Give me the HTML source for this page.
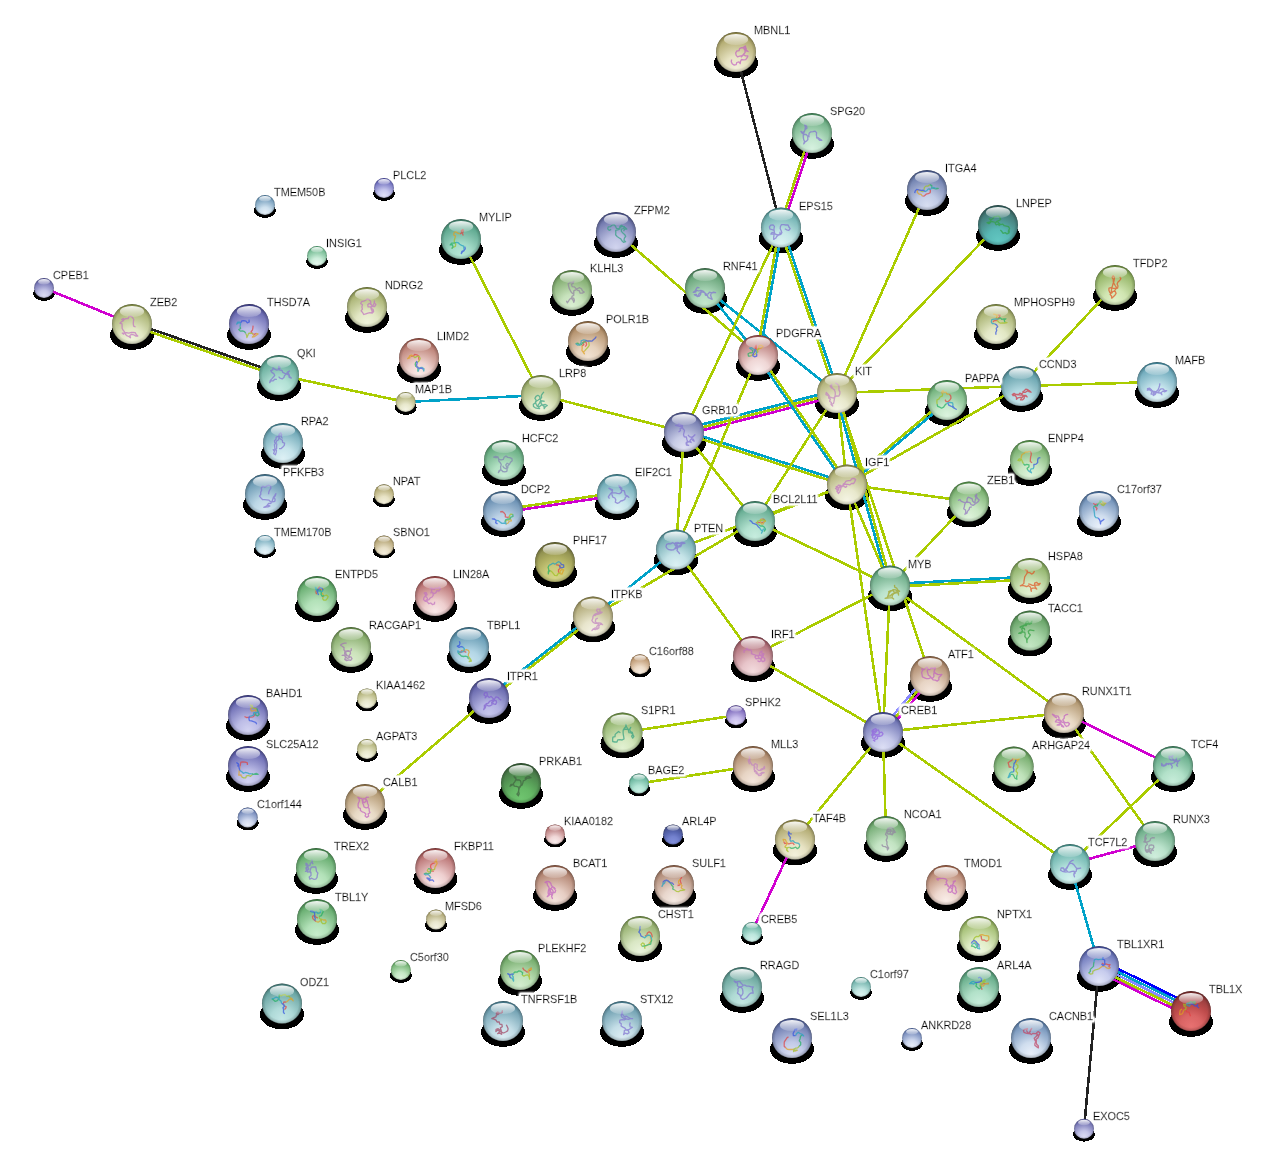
<!DOCTYPE html><html><head><meta charset="utf-8"><style>html,body{margin:0;padding:0;background:#fff;width:1261px;height:1174px;overflow:hidden}svg{display:block}text{font-family:"Liberation Sans",sans-serif;font-size:10.9px;fill:#000;stroke:#000;stroke-width:0.3px}</style></head><body>
<svg width="1261" height="1174" viewBox="0 0 1261 1174">
<defs>
<linearGradient id="hl" x1="0" y1="0" x2="0" y2="1"><stop offset="0" stop-color="#fff" stop-opacity="0.95"/><stop offset="1" stop-color="#fff" stop-opacity="0.15"/></linearGradient>
<radialGradient id="g4aa8a4" cx="0.5" cy="0.88" r="0.92" fx="0.5" fy="0.88"><stop offset="0" stop-color="#62c6c1"/><stop offset="0.3" stop-color="#58b9b5"/><stop offset="0.55" stop-color="#4e9592"/><stop offset="0.8" stop-color="#427673"/><stop offset="0.92" stop-color="#346260"/><stop offset="1" stop-color="#244847"/></radialGradient>
<radialGradient id="g52aa52" cx="0.5" cy="0.88" r="0.92" fx="0.5" fy="0.88"><stop offset="0" stop-color="#6fc46f"/><stop offset="0.3" stop-color="#65b865"/><stop offset="0.55" stop-color="#559855"/><stop offset="0.8" stop-color="#487848"/><stop offset="0.92" stop-color="#396339"/><stop offset="1" stop-color="#284a28"/></radialGradient>
<radialGradient id="g5a6ac2" cx="0.5" cy="0.88" r="0.92" fx="0.5" fy="0.88"><stop offset="0" stop-color="#808eda"/><stop offset="0.3" stop-color="#7381ce"/><stop offset="0.55" stop-color="#5967b2"/><stop offset="0.8" stop-color="#485390"/><stop offset="0.92" stop-color="#384278"/><stop offset="1" stop-color="#272f59"/></radialGradient>
<radialGradient id="g84ccb4" cx="0.5" cy="0.88" r="0.92" fx="0.5" fy="0.88"><stop offset="0" stop-color="#b4e6d5"/><stop offset="0.3" stop-color="#a2dac7"/><stop offset="0.55" stop-color="#7ebea9"/><stop offset="0.8" stop-color="#5aa68c"/><stop offset="0.92" stop-color="#478a73"/><stop offset="1" stop-color="#316654"/></radialGradient>
<radialGradient id="g9292d2" cx="0.5" cy="0.88" r="0.92" fx="0.5" fy="0.88"><stop offset="0" stop-color="#c6c6ec"/><stop offset="0.3" stop-color="#b2b2e1"/><stop offset="0.55" stop-color="#8a8ac4"/><stop offset="0.8" stop-color="#6363ab"/><stop offset="0.92" stop-color="#4b4b92"/><stop offset="1" stop-color="#34346c"/></radialGradient>
<radialGradient id="g92c2d8" cx="0.5" cy="0.88" r="0.92" fx="0.5" fy="0.88"><stop offset="0" stop-color="#c9e4f0"/><stop offset="0.3" stop-color="#b3d6e6"/><stop offset="0.55" stop-color="#8ab6ca"/><stop offset="0.8" stop-color="#6298b2"/><stop offset="0.92" stop-color="#47809a"/><stop offset="1" stop-color="#315e72"/></radialGradient>
<radialGradient id="g92c8d2" cx="0.5" cy="0.88" r="0.92" fx="0.5" fy="0.88"><stop offset="0" stop-color="#c6e6ec"/><stop offset="0.3" stop-color="#b2d9e1"/><stop offset="0.55" stop-color="#8abbc4"/><stop offset="0.8" stop-color="#63a0ab"/><stop offset="0.92" stop-color="#4b8792"/><stop offset="1" stop-color="#34646c"/></radialGradient>
<radialGradient id="g92ca92" cx="0.5" cy="0.88" r="0.92" fx="0.5" fy="0.88"><stop offset="0" stop-color="#c3e6c3"/><stop offset="0.3" stop-color="#afdaaf"/><stop offset="0.55" stop-color="#8abd8a"/><stop offset="0.8" stop-color="#66a366"/><stop offset="0.92" stop-color="#4f894f"/><stop offset="1" stop-color="#376537"/></radialGradient>
<radialGradient id="g92caa2" cx="0.5" cy="0.88" r="0.92" fx="0.5" fy="0.88"><stop offset="0" stop-color="#c3e6cd"/><stop offset="0.3" stop-color="#afdabc"/><stop offset="0.55" stop-color="#8abd99"/><stop offset="0.8" stop-color="#66a377"/><stop offset="0.92" stop-color="#4f895f"/><stop offset="1" stop-color="#376544"/></radialGradient>
<radialGradient id="g92cac2" cx="0.5" cy="0.88" r="0.92" fx="0.5" fy="0.88"><stop offset="0" stop-color="#c3e6e1"/><stop offset="0.3" stop-color="#afdad4"/><stop offset="0.55" stop-color="#8abdb6"/><stop offset="0.8" stop-color="#66a39a"/><stop offset="0.92" stop-color="#4f8981"/><stop offset="1" stop-color="#37655f"/></radialGradient>
<radialGradient id="g92cac8" cx="0.5" cy="0.88" r="0.92" fx="0.5" fy="0.88"><stop offset="0" stop-color="#c3e6e5"/><stop offset="0.3" stop-color="#afdad8"/><stop offset="0.55" stop-color="#8abdbb"/><stop offset="0.8" stop-color="#66a3a1"/><stop offset="0.92" stop-color="#4f8987"/><stop offset="1" stop-color="#376564"/></radialGradient>
<radialGradient id="g92d29a" cx="0.5" cy="0.88" r="0.92" fx="0.5" fy="0.88"><stop offset="0" stop-color="#c6eccb"/><stop offset="0.3" stop-color="#b2e1b8"/><stop offset="0.55" stop-color="#8ac491"/><stop offset="0.8" stop-color="#63ab6c"/><stop offset="0.92" stop-color="#4b9254"/><stop offset="1" stop-color="#346c3b"/></radialGradient>
<radialGradient id="g92d2aa" cx="0.5" cy="0.88" r="0.92" fx="0.5" fy="0.88"><stop offset="0" stop-color="#c6ecd4"/><stop offset="0.3" stop-color="#b2e1c3"/><stop offset="0.55" stop-color="#8ac4a0"/><stop offset="0.8" stop-color="#63ab7e"/><stop offset="0.92" stop-color="#4b9265"/><stop offset="1" stop-color="#346c49"/></radialGradient>
<radialGradient id="g92d2b2" cx="0.5" cy="0.88" r="0.92" fx="0.5" fy="0.88"><stop offset="0" stop-color="#c6ecd9"/><stop offset="0.3" stop-color="#b2e1c9"/><stop offset="0.55" stop-color="#8ac4a7"/><stop offset="0.8" stop-color="#63ab87"/><stop offset="0.92" stop-color="#4b926e"/><stop offset="1" stop-color="#346c50"/></radialGradient>
<radialGradient id="g92d2ba" cx="0.5" cy="0.88" r="0.92" fx="0.5" fy="0.88"><stop offset="0" stop-color="#c6ecde"/><stop offset="0.3" stop-color="#b2e1cf"/><stop offset="0.55" stop-color="#8ac4af"/><stop offset="0.8" stop-color="#63ab90"/><stop offset="0.92" stop-color="#4b9277"/><stop offset="1" stop-color="#346c57"/></radialGradient>
<radialGradient id="g92d2c2" cx="0.5" cy="0.88" r="0.92" fx="0.5" fy="0.88"><stop offset="0" stop-color="#c6ece3"/><stop offset="0.3" stop-color="#b2e1d5"/><stop offset="0.55" stop-color="#8ac4b6"/><stop offset="0.8" stop-color="#63ab99"/><stop offset="0.92" stop-color="#4b9280"/><stop offset="1" stop-color="#346c5e"/></radialGradient>
<radialGradient id="g92d8c2" cx="0.5" cy="0.88" r="0.92" fx="0.5" fy="0.88"><stop offset="0" stop-color="#c9f0e4"/><stop offset="0.3" stop-color="#b3e6d6"/><stop offset="0.55" stop-color="#8acab6"/><stop offset="0.8" stop-color="#62b298"/><stop offset="0.92" stop-color="#479a80"/><stop offset="1" stop-color="#31725e"/></radialGradient>
<radialGradient id="g9a9ad8" cx="0.5" cy="0.88" r="0.92" fx="0.5" fy="0.88"><stop offset="0" stop-color="#d2d2f1"/><stop offset="0.3" stop-color="#bcbce6"/><stop offset="0.55" stop-color="#9191cb"/><stop offset="0.8" stop-color="#6868b1"/><stop offset="0.92" stop-color="#4b4b9a"/><stop offset="1" stop-color="#343473"/></radialGradient>
<radialGradient id="g9abad8" cx="0.5" cy="0.88" r="0.92" fx="0.5" fy="0.88"><stop offset="0" stop-color="#d2e2f1"/><stop offset="0.3" stop-color="#bcd2e6"/><stop offset="0.55" stop-color="#91afcb"/><stop offset="0.8" stop-color="#688eb1"/><stop offset="0.92" stop-color="#4b749a"/><stop offset="1" stop-color="#345473"/></radialGradient>
<radialGradient id="g9ac2d8" cx="0.5" cy="0.88" r="0.92" fx="0.5" fy="0.88"><stop offset="0" stop-color="#d2e6f1"/><stop offset="0.3" stop-color="#bcd7e6"/><stop offset="0.55" stop-color="#91b6cb"/><stop offset="0.8" stop-color="#6897b1"/><stop offset="0.92" stop-color="#4b7e9a"/><stop offset="1" stop-color="#345c73"/></radialGradient>
<radialGradient id="g9ad2b2" cx="0.5" cy="0.88" r="0.92" fx="0.5" fy="0.88"><stop offset="0" stop-color="#cfeddc"/><stop offset="0.3" stop-color="#bae2cb"/><stop offset="0.55" stop-color="#91c5a7"/><stop offset="0.8" stop-color="#6aab86"/><stop offset="0.92" stop-color="#4f936c"/><stop offset="1" stop-color="#376d4e"/></radialGradient>
<radialGradient id="g9ad8ca" cx="0.5" cy="0.88" r="0.92" fx="0.5" fy="0.88"><stop offset="0" stop-color="#d2f1ea"/><stop offset="0.3" stop-color="#bce6dd"/><stop offset="0.55" stop-color="#91cbbe"/><stop offset="0.8" stop-color="#68b1a1"/><stop offset="0.92" stop-color="#4b9a88"/><stop offset="1" stop-color="#347364"/></radialGradient>
<radialGradient id="g9ad8d2" cx="0.5" cy="0.88" r="0.92" fx="0.5" fy="0.88"><stop offset="0" stop-color="#d2f1ee"/><stop offset="0.3" stop-color="#bce6e2"/><stop offset="0.55" stop-color="#91cbc5"/><stop offset="0.8" stop-color="#68b1aa"/><stop offset="0.92" stop-color="#4b9a93"/><stop offset="1" stop-color="#34736d"/></radialGradient>
<radialGradient id="g9ca2d2" cx="0.5" cy="0.88" r="0.92" fx="0.5" fy="0.88"><stop offset="0" stop-color="#d1d4ee"/><stop offset="0.3" stop-color="#bcc0e2"/><stop offset="0.55" stop-color="#9399c5"/><stop offset="0.8" stop-color="#6c73aa"/><stop offset="0.92" stop-color="#505893"/><stop offset="1" stop-color="#383e6d"/></radialGradient>
<radialGradient id="g9fd6b2" cx="0.5" cy="0.88" r="0.92" fx="0.5" fy="0.88"><stop offset="0" stop-color="#d6f1df"/><stop offset="0.3" stop-color="#c0e5cd"/><stop offset="0.55" stop-color="#96c9a7"/><stop offset="0.8" stop-color="#6dae84"/><stop offset="0.92" stop-color="#4f9868"/><stop offset="1" stop-color="#37714b"/></radialGradient>
<radialGradient id="ga0acd8" cx="0.5" cy="0.88" r="0.92" fx="0.5" fy="0.88"><stop offset="0" stop-color="#d9def2"/><stop offset="0.3" stop-color="#c2cae7"/><stop offset="0.55" stop-color="#97a2cb"/><stop offset="0.8" stop-color="#6d7cb1"/><stop offset="0.92" stop-color="#4f5f9b"/><stop offset="1" stop-color="#374373"/></radialGradient>
<radialGradient id="ga0aed6" cx="0.5" cy="0.88" r="0.92" fx="0.5" fy="0.88"><stop offset="0" stop-color="#d7def1"/><stop offset="0.3" stop-color="#c1cbe6"/><stop offset="0.55" stop-color="#97a4c9"/><stop offset="0.8" stop-color="#6e7fae"/><stop offset="0.92" stop-color="#506398"/><stop offset="1" stop-color="#384671"/></radialGradient>
<radialGradient id="ga2a2d8" cx="0.5" cy="0.88" r="0.92" fx="0.5" fy="0.88"><stop offset="0" stop-color="#dbdbf3"/><stop offset="0.3" stop-color="#c4c4e7"/><stop offset="0.55" stop-color="#9898cb"/><stop offset="0.8" stop-color="#6f6fb0"/><stop offset="0.92" stop-color="#50509b"/><stop offset="1" stop-color="#373773"/></radialGradient>
<radialGradient id="ga2a6da" cx="0.5" cy="0.88" r="0.92" fx="0.5" fy="0.88"><stop offset="0" stop-color="#dcdef4"/><stop offset="0.3" stop-color="#c4c7e9"/><stop offset="0.55" stop-color="#989ccd"/><stop offset="0.8" stop-color="#6e73b3"/><stop offset="0.92" stop-color="#4e549d"/><stop offset="1" stop-color="#363b75"/></radialGradient>
<radialGradient id="ga2aae0" cx="0.5" cy="0.88" r="0.92" fx="0.5" fy="0.88"><stop offset="0" stop-color="#e0e3f7"/><stop offset="0.3" stop-color="#c7cced"/><stop offset="0.55" stop-color="#98a0d3"/><stop offset="0.8" stop-color="#6c76ba"/><stop offset="0.92" stop-color="#4955a6"/><stop offset="1" stop-color="#323b7c"/></radialGradient>
<radialGradient id="ga2cad8" cx="0.5" cy="0.88" r="0.92" fx="0.5" fy="0.88"><stop offset="0" stop-color="#dbecf3"/><stop offset="0.3" stop-color="#c4dee7"/><stop offset="0.55" stop-color="#98becb"/><stop offset="0.8" stop-color="#6f9fb0"/><stop offset="0.92" stop-color="#50879b"/><stop offset="1" stop-color="#376373"/></radialGradient>
<radialGradient id="ga2d0dc" cx="0.5" cy="0.88" r="0.92" fx="0.5" fy="0.88"><stop offset="0" stop-color="#ddf0f5"/><stop offset="0.3" stop-color="#c5e3ea"/><stop offset="0.55" stop-color="#98c4cf"/><stop offset="0.8" stop-color="#6da6b5"/><stop offset="0.92" stop-color="#4d8fa0"/><stop offset="1" stop-color="#356977"/></radialGradient>
<radialGradient id="ga2d29a" cx="0.5" cy="0.88" r="0.92" fx="0.5" fy="0.88"><stop offset="0" stop-color="#d3edcf"/><stop offset="0.3" stop-color="#bfe2ba"/><stop offset="0.55" stop-color="#99c591"/><stop offset="0.8" stop-color="#73ab6a"/><stop offset="0.92" stop-color="#59934f"/><stop offset="1" stop-color="#3f6d37"/></radialGradient>
<radialGradient id="ga2d2a2" cx="0.5" cy="0.88" r="0.92" fx="0.5" fy="0.88"><stop offset="0" stop-color="#d7efd7"/><stop offset="0.3" stop-color="#c2e3c2"/><stop offset="0.55" stop-color="#99c599"/><stop offset="0.8" stop-color="#71aa71"/><stop offset="0.92" stop-color="#549354"/><stop offset="1" stop-color="#3b6c3b"/></radialGradient>
<radialGradient id="ga2d2d8" cx="0.5" cy="0.88" r="0.92" fx="0.5" fy="0.88"><stop offset="0" stop-color="#dbf0f3"/><stop offset="0.3" stop-color="#c4e3e7"/><stop offset="0.55" stop-color="#98c5cb"/><stop offset="0.8" stop-color="#6fa9b0"/><stop offset="0.92" stop-color="#50929b"/><stop offset="1" stop-color="#376c73"/></radialGradient>
<radialGradient id="ga2d2dc" cx="0.5" cy="0.88" r="0.92" fx="0.5" fy="0.88"><stop offset="0" stop-color="#ddf1f5"/><stop offset="0.3" stop-color="#c5e4ea"/><stop offset="0.55" stop-color="#98c5cf"/><stop offset="0.8" stop-color="#6da9b5"/><stop offset="0.92" stop-color="#4d92a0"/><stop offset="1" stop-color="#356c77"/></radialGradient>
<radialGradient id="ga2d2e0" cx="0.5" cy="0.88" r="0.92" fx="0.5" fy="0.88"><stop offset="0" stop-color="#e0f2f7"/><stop offset="0.3" stop-color="#c7e5ed"/><stop offset="0.55" stop-color="#98c6d3"/><stop offset="0.8" stop-color="#6ca8ba"/><stop offset="0.92" stop-color="#4991a6"/><stop offset="1" stop-color="#326b7c"/></radialGradient>
<radialGradient id="ga2d8a2" cx="0.5" cy="0.88" r="0.92" fx="0.5" fy="0.88"><stop offset="0" stop-color="#dbf3db"/><stop offset="0.3" stop-color="#c4e7c4"/><stop offset="0.55" stop-color="#98cb98"/><stop offset="0.8" stop-color="#6fb06f"/><stop offset="0.92" stop-color="#509b50"/><stop offset="1" stop-color="#377337"/></radialGradient>
<radialGradient id="ga2d8aa" cx="0.5" cy="0.88" r="0.92" fx="0.5" fy="0.88"><stop offset="0" stop-color="#dbf3de"/><stop offset="0.3" stop-color="#c4e7c9"/><stop offset="0.55" stop-color="#98cba0"/><stop offset="0.8" stop-color="#6fb079"/><stop offset="0.92" stop-color="#509b5b"/><stop offset="1" stop-color="#377340"/></radialGradient>
<radialGradient id="ga2d8d2" cx="0.5" cy="0.88" r="0.92" fx="0.5" fy="0.88"><stop offset="0" stop-color="#dbf3f0"/><stop offset="0.3" stop-color="#c4e7e3"/><stop offset="0.55" stop-color="#98cbc5"/><stop offset="0.8" stop-color="#6fb0a9"/><stop offset="0.92" stop-color="#509b92"/><stop offset="1" stop-color="#37736c"/></radialGradient>
<radialGradient id="ga2d8d8" cx="0.5" cy="0.88" r="0.92" fx="0.5" fy="0.88"><stop offset="0" stop-color="#dbf3f3"/><stop offset="0.3" stop-color="#c4e7e7"/><stop offset="0.55" stop-color="#98cbcb"/><stop offset="0.8" stop-color="#6fb0b0"/><stop offset="0.92" stop-color="#509b9b"/><stop offset="1" stop-color="#377373"/></radialGradient>
<radialGradient id="ga4a4e2" cx="0.5" cy="0.88" r="0.92" fx="0.5" fy="0.88"><stop offset="0" stop-color="#e3e3f9"/><stop offset="0.3" stop-color="#cacaef"/><stop offset="0.55" stop-color="#9a9ad5"/><stop offset="0.8" stop-color="#6c6cbc"/><stop offset="0.92" stop-color="#4848aa"/><stop offset="1" stop-color="#31317e"/></radialGradient>
<radialGradient id="ga6acd6" cx="0.5" cy="0.88" r="0.92" fx="0.5" fy="0.88"><stop offset="0" stop-color="#dee0f2"/><stop offset="0.3" stop-color="#c7cbe6"/><stop offset="0.55" stop-color="#9ca2c9"/><stop offset="0.8" stop-color="#737aae"/><stop offset="0.92" stop-color="#545c98"/><stop offset="1" stop-color="#3b4170"/></radialGradient>
<radialGradient id="ga8c8e0" cx="0.5" cy="0.88" r="0.92" fx="0.5" fy="0.88"><stop offset="0" stop-color="#e6f0f8"/><stop offset="0.3" stop-color="#cde0ee"/><stop offset="0.55" stop-color="#9dbcd3"/><stop offset="0.8" stop-color="#719ab9"/><stop offset="0.92" stop-color="#4d80a7"/><stop offset="1" stop-color="#355d7c"/></radialGradient>
<radialGradient id="ga8e0c0" cx="0.5" cy="0.88" r="0.92" fx="0.5" fy="0.88"><stop offset="0" stop-color="#e6f8ee"/><stop offset="0.3" stop-color="#cdeedb"/><stop offset="0.55" stop-color="#9dd3b4"/><stop offset="0.8" stop-color="#71b990"/><stop offset="0.92" stop-color="#4da773"/><stop offset="1" stop-color="#357c53"/></radialGradient>
<radialGradient id="gaa9ae0" cx="0.5" cy="0.88" r="0.92" fx="0.5" fy="0.88"><stop offset="0" stop-color="#ded7f6"/><stop offset="0.3" stop-color="#c9bfed"/><stop offset="0.55" stop-color="#a091d2"/><stop offset="0.8" stop-color="#7965ba"/><stop offset="0.92" stop-color="#5b45a6"/><stop offset="1" stop-color="#402f7b"/></radialGradient>
<radialGradient id="gaabae0" cx="0.5" cy="0.88" r="0.92" fx="0.5" fy="0.88"><stop offset="0" stop-color="#e8edf9"/><stop offset="0.3" stop-color="#cfd8ee"/><stop offset="0.55" stop-color="#9fafd3"/><stop offset="0.8" stop-color="#7287b9"/><stop offset="0.92" stop-color="#4e68a6"/><stop offset="1" stop-color="#364a7c"/></radialGradient>
<radialGradient id="gaac2e0" cx="0.5" cy="0.88" r="0.92" fx="0.5" fy="0.88"><stop offset="0" stop-color="#e8eff9"/><stop offset="0.3" stop-color="#cfddee"/><stop offset="0.55" stop-color="#9fb6d3"/><stop offset="0.8" stop-color="#7292b9"/><stop offset="0.92" stop-color="#4e75a6"/><stop offset="1" stop-color="#36557c"/></radialGradient>
<radialGradient id="gaad2e0" cx="0.5" cy="0.88" r="0.92" fx="0.5" fy="0.88"><stop offset="0" stop-color="#e8f4f9"/><stop offset="0.3" stop-color="#cfe6ee"/><stop offset="0.55" stop-color="#9fc6d3"/><stop offset="0.8" stop-color="#72a7b9"/><stop offset="0.92" stop-color="#4e8fa6"/><stop offset="1" stop-color="#366a7c"/></radialGradient>
<radialGradient id="gaad8a2" cx="0.5" cy="0.88" r="0.92" fx="0.5" fy="0.88"><stop offset="0" stop-color="#def3db"/><stop offset="0.3" stop-color="#c9e7c4"/><stop offset="0.55" stop-color="#a0cb98"/><stop offset="0.8" stop-color="#79b06f"/><stop offset="0.92" stop-color="#5b9b50"/><stop offset="1" stop-color="#407337"/></radialGradient>
<radialGradient id="gacd29c" cx="0.5" cy="0.88" r="0.92" fx="0.5" fy="0.88"><stop offset="0" stop-color="#d9eed1"/><stop offset="0.3" stop-color="#c7e2bc"/><stop offset="0.55" stop-color="#a2c593"/><stop offset="0.8" stop-color="#7eaa6c"/><stop offset="0.92" stop-color="#649350"/><stop offset="1" stop-color="#486d38"/></radialGradient>
<radialGradient id="gb2d29a" cx="0.5" cy="0.88" r="0.92" fx="0.5" fy="0.88"><stop offset="0" stop-color="#dcedcf"/><stop offset="0.3" stop-color="#cbe2ba"/><stop offset="0.55" stop-color="#a7c591"/><stop offset="0.8" stop-color="#86ab6a"/><stop offset="0.92" stop-color="#6c934f"/><stop offset="1" stop-color="#4e6d37"/></radialGradient>
<radialGradient id="gbad890" cx="0.5" cy="0.88" r="0.92" fx="0.5" fy="0.88"><stop offset="0" stop-color="#dff0c7"/><stop offset="0.3" stop-color="#d0e5b1"/><stop offset="0.55" stop-color="#afca88"/><stop offset="0.8" stop-color="#90b260"/><stop offset="0.92" stop-color="#779946"/><stop offset="1" stop-color="#577230"/></radialGradient>
<radialGradient id="gbad89a" cx="0.5" cy="0.88" r="0.92" fx="0.5" fy="0.88"><stop offset="0" stop-color="#e2f1d2"/><stop offset="0.3" stop-color="#d2e6bc"/><stop offset="0.55" stop-color="#afcb91"/><stop offset="0.8" stop-color="#8eb168"/><stop offset="0.92" stop-color="#749a4b"/><stop offset="1" stop-color="#547334"/></radialGradient>
<radialGradient id="gbcbc62" cx="0.5" cy="0.88" r="0.92" fx="0.5" fy="0.88"><stop offset="0" stop-color="#d5d588"/><stop offset="0.3" stop-color="#c9c97a"/><stop offset="0.55" stop-color="#adad60"/><stop offset="0.8" stop-color="#8c8c4d"/><stop offset="0.92" stop-color="#74743d"/><stop offset="1" stop-color="#56562a"/></radialGradient>
<radialGradient id="gc2d8a2" cx="0.5" cy="0.88" r="0.92" fx="0.5" fy="0.88"><stop offset="0" stop-color="#e9f3db"/><stop offset="0.3" stop-color="#d9e7c4"/><stop offset="0.55" stop-color="#b6cb98"/><stop offset="0.8" stop-color="#96b06f"/><stop offset="0.92" stop-color="#7c9b50"/><stop offset="1" stop-color="#5b7337"/></radialGradient>
<radialGradient id="gcad8a2" cx="0.5" cy="0.88" r="0.92" fx="0.5" fy="0.88"><stop offset="0" stop-color="#ecf3db"/><stop offset="0.3" stop-color="#dee7c4"/><stop offset="0.55" stop-color="#becb98"/><stop offset="0.8" stop-color="#9fb06f"/><stop offset="0.92" stop-color="#879b50"/><stop offset="1" stop-color="#637337"/></radialGradient>
<radialGradient id="gcae0a2" cx="0.5" cy="0.88" r="0.92" fx="0.5" fy="0.88"><stop offset="0" stop-color="#eff7e0"/><stop offset="0.3" stop-color="#e0edc7"/><stop offset="0.55" stop-color="#bed398"/><stop offset="0.8" stop-color="#9eba6c"/><stop offset="0.92" stop-color="#85a649"/><stop offset="1" stop-color="#627c32"/></radialGradient>
<radialGradient id="gd04a4a" cx="0.5" cy="0.88" r="0.92" fx="0.5" fy="0.88"><stop offset="0" stop-color="#e77171"/><stop offset="0.3" stop-color="#da6464"/><stop offset="0.55" stop-color="#be4b4b"/><stop offset="0.8" stop-color="#993e3e"/><stop offset="0.92" stop-color="#7f2f2f"/><stop offset="1" stop-color="#5f2020"/></radialGradient>
<radialGradient id="gd0d8a2" cx="0.5" cy="0.88" r="0.92" fx="0.5" fy="0.88"><stop offset="0" stop-color="#eff3db"/><stop offset="0.3" stop-color="#e2e7c4"/><stop offset="0.55" stop-color="#c3cb98"/><stop offset="0.8" stop-color="#a7b06f"/><stop offset="0.92" stop-color="#8f9b50"/><stop offset="1" stop-color="#6a7337"/></radialGradient>
<radialGradient id="gd8a2aa" cx="0.5" cy="0.88" r="0.92" fx="0.5" fy="0.88"><stop offset="0" stop-color="#f3dbde"/><stop offset="0.3" stop-color="#e7c4c9"/><stop offset="0.55" stop-color="#cb98a0"/><stop offset="0.8" stop-color="#b06f79"/><stop offset="0.92" stop-color="#9b505b"/><stop offset="1" stop-color="#733740"/></radialGradient>
<radialGradient id="gd8b2a2" cx="0.5" cy="0.88" r="0.92" fx="0.5" fy="0.88"><stop offset="0" stop-color="#f3e2db"/><stop offset="0.3" stop-color="#e7cec4"/><stop offset="0.55" stop-color="#cba798"/><stop offset="0.8" stop-color="#b0826f"/><stop offset="0.92" stop-color="#9b6650"/><stop offset="1" stop-color="#734937"/></radialGradient>
<radialGradient id="gd8ba9a" cx="0.5" cy="0.88" r="0.92" fx="0.5" fy="0.88"><stop offset="0" stop-color="#f1e2d2"/><stop offset="0.3" stop-color="#e6d2bc"/><stop offset="0.55" stop-color="#cbaf91"/><stop offset="0.8" stop-color="#b18e68"/><stop offset="0.92" stop-color="#9a744b"/><stop offset="1" stop-color="#735434"/></radialGradient>
<radialGradient id="gd8baa2" cx="0.5" cy="0.88" r="0.92" fx="0.5" fy="0.88"><stop offset="0" stop-color="#f3e5db"/><stop offset="0.3" stop-color="#e7d4c4"/><stop offset="0.55" stop-color="#cbaf98"/><stop offset="0.8" stop-color="#b08c6f"/><stop offset="0.92" stop-color="#9b7150"/><stop offset="1" stop-color="#735237"/></radialGradient>
<radialGradient id="gd8baaa" cx="0.5" cy="0.88" r="0.92" fx="0.5" fy="0.88"><stop offset="0" stop-color="#f4e9e3"/><stop offset="0.3" stop-color="#e8d6cc"/><stop offset="0.55" stop-color="#cbafa0"/><stop offset="0.8" stop-color="#b08a76"/><stop offset="0.92" stop-color="#9a6d55"/><stop offset="1" stop-color="#724f3b"/></radialGradient>
<radialGradient id="gd8c2a2" cx="0.5" cy="0.88" r="0.92" fx="0.5" fy="0.88"><stop offset="0" stop-color="#f3e9db"/><stop offset="0.3" stop-color="#e7d9c4"/><stop offset="0.55" stop-color="#cbb698"/><stop offset="0.8" stop-color="#b0966f"/><stop offset="0.92" stop-color="#9b7c50"/><stop offset="1" stop-color="#735b37"/></radialGradient>
<radialGradient id="gd8caa2" cx="0.5" cy="0.88" r="0.92" fx="0.5" fy="0.88"><stop offset="0" stop-color="#f3ecdb"/><stop offset="0.3" stop-color="#e7dec4"/><stop offset="0.55" stop-color="#cbbe98"/><stop offset="0.8" stop-color="#b09f6f"/><stop offset="0.92" stop-color="#9b8750"/><stop offset="1" stop-color="#736337"/></radialGradient>
<radialGradient id="gd8d0a2" cx="0.5" cy="0.88" r="0.92" fx="0.5" fy="0.88"><stop offset="0" stop-color="#f3efdb"/><stop offset="0.3" stop-color="#e7e2c4"/><stop offset="0.55" stop-color="#cbc398"/><stop offset="0.8" stop-color="#b0a76f"/><stop offset="0.92" stop-color="#9b8f50"/><stop offset="1" stop-color="#736a37"/></radialGradient>
<radialGradient id="gd8d2a0" cx="0.5" cy="0.88" r="0.92" fx="0.5" fy="0.88"><stop offset="0" stop-color="#f2efd9"/><stop offset="0.3" stop-color="#e7e3c2"/><stop offset="0.55" stop-color="#cbc597"/><stop offset="0.8" stop-color="#b1a96d"/><stop offset="0.92" stop-color="#9b924f"/><stop offset="1" stop-color="#736c37"/></radialGradient>
<radialGradient id="gd8d2a2" cx="0.5" cy="0.88" r="0.92" fx="0.5" fy="0.88"><stop offset="0" stop-color="#f3f0db"/><stop offset="0.3" stop-color="#e7e3c4"/><stop offset="0.55" stop-color="#cbc598"/><stop offset="0.8" stop-color="#b0a96f"/><stop offset="0.92" stop-color="#9b9250"/><stop offset="1" stop-color="#736c37"/></radialGradient>
<radialGradient id="gd8d2aa" cx="0.5" cy="0.88" r="0.92" fx="0.5" fy="0.88"><stop offset="0" stop-color="#f4f2e3"/><stop offset="0.3" stop-color="#e8e5cc"/><stop offset="0.55" stop-color="#cbc6a0"/><stop offset="0.8" stop-color="#b0a876"/><stop offset="0.92" stop-color="#9a9155"/><stop offset="1" stop-color="#726b3b"/></radialGradient>
<radialGradient id="gd8d8aa" cx="0.5" cy="0.88" r="0.92" fx="0.5" fy="0.88"><stop offset="0" stop-color="#f4f4e3"/><stop offset="0.3" stop-color="#e8e8cc"/><stop offset="0.55" stop-color="#cbcba0"/><stop offset="0.8" stop-color="#b0b076"/><stop offset="0.92" stop-color="#9a9a55"/><stop offset="1" stop-color="#72723b"/></radialGradient>
<radialGradient id="ge0aaaa" cx="0.5" cy="0.88" r="0.92" fx="0.5" fy="0.88"><stop offset="0" stop-color="#f9e8e8"/><stop offset="0.3" stop-color="#eecfcf"/><stop offset="0.55" stop-color="#d39f9f"/><stop offset="0.8" stop-color="#b97272"/><stop offset="0.92" stop-color="#a64e4e"/><stop offset="1" stop-color="#7c3636"/></radialGradient>
<radialGradient id="ge0b2aa" cx="0.5" cy="0.88" r="0.92" fx="0.5" fy="0.88"><stop offset="0" stop-color="#f9ebe8"/><stop offset="0.3" stop-color="#eed3cf"/><stop offset="0.55" stop-color="#d3a79f"/><stop offset="0.8" stop-color="#b97d72"/><stop offset="0.92" stop-color="#a65b4e"/><stop offset="1" stop-color="#7c4036"/></radialGradient>
<radialGradient id="ge0b2b0" cx="0.5" cy="0.88" r="0.92" fx="0.5" fy="0.88"><stop offset="0" stop-color="#f9ecec"/><stop offset="0.3" stop-color="#efd6d5"/><stop offset="0.55" stop-color="#d3a7a5"/><stop offset="0.8" stop-color="#b87a78"/><stop offset="0.92" stop-color="#a65552"/><stop offset="1" stop-color="#7b3b39"/></radialGradient>
<radialGradient id="ge0b2b2" cx="0.5" cy="0.88" r="0.92" fx="0.5" fy="0.88"><stop offset="0" stop-color="#f9ecec"/><stop offset="0.3" stop-color="#f0d7d7"/><stop offset="0.55" stop-color="#d3a6a6"/><stop offset="0.8" stop-color="#b87979"/><stop offset="0.92" stop-color="#a65353"/><stop offset="1" stop-color="#7b3a3a"/></radialGradient>
<radialGradient id="ge0baaa" cx="0.5" cy="0.88" r="0.92" fx="0.5" fy="0.88"><stop offset="0" stop-color="#f9ede8"/><stop offset="0.3" stop-color="#eed8cf"/><stop offset="0.55" stop-color="#d3af9f"/><stop offset="0.8" stop-color="#b98772"/><stop offset="0.92" stop-color="#a6684e"/><stop offset="1" stop-color="#7c4a36"/></radialGradient>
<radialGradient id="ge0c2a2" cx="0.5" cy="0.88" r="0.92" fx="0.5" fy="0.88"><stop offset="0" stop-color="#f7ece0"/><stop offset="0.3" stop-color="#eddbc7"/><stop offset="0.55" stop-color="#d3b698"/><stop offset="0.8" stop-color="#ba946c"/><stop offset="0.92" stop-color="#a67949"/><stop offset="1" stop-color="#7c5832"/></radialGradient>
<radialGradient id="rim" cx="0.5" cy="0.5" r="0.5"><stop offset="0" stop-color="#000" stop-opacity="0"/><stop offset="0.82" stop-color="#000" stop-opacity="0"/><stop offset="0.96" stop-color="#000" stop-opacity="0.16"/><stop offset="1" stop-color="#000" stop-opacity="0.4"/></radialGradient>
</defs>
<g fill="#000" shape-rendering="crispEdges">
<ellipse cx="736.0" cy="63.0" rx="22.0" ry="14.8"/>
<ellipse cx="812.0" cy="144.0" rx="22.0" ry="14.8"/>
<ellipse cx="265.0" cy="210.5" rx="11.0" ry="7.4"/>
<ellipse cx="384.0" cy="193.5" rx="11.0" ry="7.4"/>
<ellipse cx="927.0" cy="201.0" rx="22.0" ry="14.8"/>
<ellipse cx="781.0" cy="238.5" rx="22.0" ry="14.8"/>
<ellipse cx="998.0" cy="236.0" rx="22.0" ry="14.8"/>
<ellipse cx="616.0" cy="243.0" rx="22.0" ry="14.8"/>
<ellipse cx="461.0" cy="250.0" rx="22.0" ry="14.8"/>
<ellipse cx="317.0" cy="261.5" rx="11.0" ry="7.4"/>
<ellipse cx="1115.0" cy="296.0" rx="22.0" ry="14.8"/>
<ellipse cx="44.0" cy="293.5" rx="11.0" ry="7.4"/>
<ellipse cx="572.0" cy="301.0" rx="22.0" ry="14.8"/>
<ellipse cx="705.0" cy="299.0" rx="22.0" ry="14.8"/>
<ellipse cx="367.0" cy="318.0" rx="22.0" ry="14.8"/>
<ellipse cx="996.0" cy="335.0" rx="22.0" ry="14.8"/>
<ellipse cx="132.0" cy="335.0" rx="22.0" ry="14.8"/>
<ellipse cx="249.0" cy="335.0" rx="22.0" ry="14.8"/>
<ellipse cx="588.0" cy="352.0" rx="22.0" ry="14.8"/>
<ellipse cx="758.0" cy="366.0" rx="22.0" ry="14.8"/>
<ellipse cx="419.0" cy="369.0" rx="22.0" ry="14.8"/>
<ellipse cx="279.0" cy="386.0" rx="22.0" ry="14.8"/>
<ellipse cx="1021.0" cy="397.0" rx="22.0" ry="14.8"/>
<ellipse cx="837.0" cy="404.0" rx="22.0" ry="14.8"/>
<ellipse cx="1157.0" cy="393.0" rx="22.0" ry="14.8"/>
<ellipse cx="947.0" cy="411.0" rx="22.0" ry="14.8"/>
<ellipse cx="405.7" cy="407.5" rx="11.0" ry="7.4"/>
<ellipse cx="541.0" cy="406.0" rx="22.0" ry="14.8"/>
<ellipse cx="283.0" cy="454.0" rx="22.0" ry="14.8"/>
<ellipse cx="684.0" cy="443.0" rx="22.0" ry="14.8"/>
<ellipse cx="504.0" cy="471.0" rx="22.0" ry="14.8"/>
<ellipse cx="1030.0" cy="471.0" rx="22.0" ry="14.8"/>
<ellipse cx="847.0" cy="495.5" rx="22.0" ry="14.8"/>
<ellipse cx="265.0" cy="505.0" rx="22.0" ry="14.8"/>
<ellipse cx="384.0" cy="499.8" rx="11.0" ry="7.4"/>
<ellipse cx="503.0" cy="522.0" rx="22.0" ry="14.8"/>
<ellipse cx="617.0" cy="505.0" rx="22.0" ry="14.8"/>
<ellipse cx="969.0" cy="512.5" rx="22.0" ry="14.8"/>
<ellipse cx="1099.0" cy="522.0" rx="22.0" ry="14.8"/>
<ellipse cx="755.0" cy="532.0" rx="22.0" ry="14.8"/>
<ellipse cx="265.0" cy="550.5" rx="11.0" ry="7.4"/>
<ellipse cx="384.0" cy="551.0" rx="11.0" ry="7.4"/>
<ellipse cx="676.0" cy="560.5" rx="22.0" ry="14.8"/>
<ellipse cx="555.0" cy="573.0" rx="22.0" ry="14.8"/>
<ellipse cx="1030.0" cy="589.0" rx="22.0" ry="14.8"/>
<ellipse cx="890.0" cy="596.5" rx="22.0" ry="14.8"/>
<ellipse cx="317.0" cy="607.0" rx="22.0" ry="14.8"/>
<ellipse cx="435.0" cy="607.0" rx="22.0" ry="14.8"/>
<ellipse cx="593.0" cy="627.5" rx="22.0" ry="14.8"/>
<ellipse cx="1030.0" cy="641.5" rx="22.0" ry="14.8"/>
<ellipse cx="351.0" cy="658.0" rx="22.0" ry="14.8"/>
<ellipse cx="469.0" cy="658.0" rx="22.0" ry="14.8"/>
<ellipse cx="753.0" cy="667.0" rx="22.0" ry="14.8"/>
<ellipse cx="640.0" cy="669.8" rx="11.0" ry="7.4"/>
<ellipse cx="930.0" cy="687.0" rx="22.0" ry="14.8"/>
<ellipse cx="248.0" cy="726.0" rx="22.0" ry="14.8"/>
<ellipse cx="367.0" cy="703.9" rx="11.0" ry="7.4"/>
<ellipse cx="489.0" cy="709.0" rx="22.0" ry="14.8"/>
<ellipse cx="622.5" cy="743.5" rx="22.0" ry="14.8"/>
<ellipse cx="736.0" cy="720.8" rx="11.0" ry="7.4"/>
<ellipse cx="1064.0" cy="724.0" rx="22.0" ry="14.8"/>
<ellipse cx="883.0" cy="743.0" rx="22.0" ry="14.8"/>
<ellipse cx="248.0" cy="777.0" rx="22.0" ry="14.8"/>
<ellipse cx="367.0" cy="754.5" rx="11.0" ry="7.4"/>
<ellipse cx="753.0" cy="777.0" rx="22.0" ry="14.8"/>
<ellipse cx="1173.0" cy="777.0" rx="22.0" ry="14.8"/>
<ellipse cx="1013.7" cy="777.6" rx="22.0" ry="14.8"/>
<ellipse cx="521.0" cy="794.0" rx="22.0" ry="14.8"/>
<ellipse cx="639.0" cy="789.0" rx="11.0" ry="7.4"/>
<ellipse cx="365.0" cy="815.0" rx="22.0" ry="14.8"/>
<ellipse cx="247.7" cy="823.0" rx="11.0" ry="7.4"/>
<ellipse cx="555.0" cy="839.9" rx="11.0" ry="7.4"/>
<ellipse cx="673.0" cy="839.9" rx="11.0" ry="7.4"/>
<ellipse cx="795.0" cy="850.5" rx="22.0" ry="14.8"/>
<ellipse cx="886.0" cy="847.0" rx="22.0" ry="14.8"/>
<ellipse cx="1155.0" cy="852.0" rx="22.0" ry="14.8"/>
<ellipse cx="316.0" cy="879.0" rx="22.0" ry="14.8"/>
<ellipse cx="435.3" cy="879.0" rx="22.0" ry="14.8"/>
<ellipse cx="1070.0" cy="875.0" rx="22.0" ry="14.8"/>
<ellipse cx="555.0" cy="896.0" rx="22.0" ry="14.8"/>
<ellipse cx="674.0" cy="896.0" rx="22.0" ry="14.8"/>
<ellipse cx="946.0" cy="896.0" rx="22.0" ry="14.8"/>
<ellipse cx="317.0" cy="930.0" rx="22.0" ry="14.8"/>
<ellipse cx="436.0" cy="925.0" rx="11.0" ry="7.4"/>
<ellipse cx="640.0" cy="947.0" rx="22.0" ry="14.8"/>
<ellipse cx="979.0" cy="947.0" rx="22.0" ry="14.8"/>
<ellipse cx="752.0" cy="937.5" rx="11.0" ry="7.4"/>
<ellipse cx="520.0" cy="981.0" rx="22.0" ry="14.8"/>
<ellipse cx="400.8" cy="975.5" rx="11.0" ry="7.4"/>
<ellipse cx="1099.0" cy="977.0" rx="22.0" ry="14.8"/>
<ellipse cx="742.0" cy="998.0" rx="22.0" ry="14.8"/>
<ellipse cx="861.0" cy="992.5" rx="11.0" ry="7.4"/>
<ellipse cx="979.0" cy="998.0" rx="22.0" ry="14.8"/>
<ellipse cx="282.0" cy="1014.5" rx="22.0" ry="14.8"/>
<ellipse cx="1191.0" cy="1022.0" rx="22.0" ry="14.8"/>
<ellipse cx="503.0" cy="1032.0" rx="22.0" ry="14.8"/>
<ellipse cx="622.0" cy="1032.0" rx="22.0" ry="14.8"/>
<ellipse cx="792.0" cy="1049.0" rx="22.0" ry="14.8"/>
<ellipse cx="912.0" cy="1043.5" rx="11.0" ry="7.4"/>
<ellipse cx="1031.0" cy="1049.0" rx="22.0" ry="14.8"/>
<ellipse cx="1084.0" cy="1134.2" rx="11.0" ry="7.4"/>
</g>
<g fill="none" stroke-width="2.6" stroke-linecap="butt" shape-rendering="crispEdges">
<line x1="736.0" y1="52.0" x2="781.0" y2="227.5" stroke="#222222"/>
<line x1="813.4" y1="133.5" x2="782.4" y2="228.0" stroke="#d000d0"/>
<line x1="810.6" y1="132.5" x2="779.6" y2="227.0" stroke="#aacc00"/>
<line x1="44.0" y1="288.0" x2="132.0" y2="324.0" stroke="#d000d0"/>
<line x1="132.5" y1="322.6" x2="279.5" y2="373.6" stroke="#222222"/>
<line x1="131.5" y1="325.4" x2="278.5" y2="376.4" stroke="#aacc00"/>
<line x1="279.0" y1="375.0" x2="405.7" y2="402.0" stroke="#aacc00"/>
<line x1="405.7" y1="402.0" x2="541.0" y2="395.0" stroke="#00a2c8"/>
<line x1="461.0" y1="239.0" x2="541.0" y2="395.0" stroke="#aacc00"/>
<line x1="541.0" y1="395.0" x2="684.0" y2="432.0" stroke="#aacc00"/>
<line x1="616.0" y1="232.0" x2="758.0" y2="355.0" stroke="#aacc00"/>
<line x1="705.0" y1="288.0" x2="758.0" y2="355.0" stroke="#00a2c8"/>
<line x1="705.0" y1="288.0" x2="837.0" y2="393.0" stroke="#00a2c8"/>
<line x1="781.0" y1="227.5" x2="684.0" y2="432.0" stroke="#aacc00"/>
<line x1="782.4" y1="227.8" x2="759.4" y2="355.3" stroke="#00a2c8"/>
<line x1="779.6" y1="227.2" x2="756.6" y2="354.7" stroke="#aacc00"/>
<line x1="782.4" y1="227.0" x2="838.4" y2="392.5" stroke="#00a2c8"/>
<line x1="779.6" y1="228.0" x2="835.6" y2="393.5" stroke="#aacc00"/>
<line x1="927.0" y1="190.0" x2="837.0" y2="393.0" stroke="#aacc00"/>
<line x1="998.0" y1="225.0" x2="837.0" y2="393.0" stroke="#aacc00"/>
<line x1="683.3" y1="429.2" x2="836.3" y2="390.2" stroke="#00a2c8"/>
<line x1="684.0" y1="432.0" x2="837.0" y2="393.0" stroke="#aacc00"/>
<line x1="684.7" y1="434.8" x2="837.7" y2="395.8" stroke="#d000d0"/>
<line x1="684.4" y1="430.6" x2="847.4" y2="483.1" stroke="#00a2c8"/>
<line x1="683.6" y1="433.4" x2="846.6" y2="485.9" stroke="#aacc00"/>
<line x1="684.0" y1="432.0" x2="676.0" y2="549.5" stroke="#aacc00"/>
<line x1="684.0" y1="432.0" x2="755.0" y2="521.0" stroke="#aacc00"/>
<line x1="758.0" y1="355.0" x2="676.0" y2="549.5" stroke="#aacc00"/>
<line x1="759.2" y1="354.2" x2="848.2" y2="483.7" stroke="#aacc00"/>
<line x1="756.8" y1="355.8" x2="845.8" y2="485.3" stroke="#00a2c8"/>
<line x1="837.0" y1="393.0" x2="1021.0" y2="386.0" stroke="#aacc00"/>
<line x1="837.0" y1="393.0" x2="755.0" y2="521.0" stroke="#aacc00"/>
<line x1="837.0" y1="393.0" x2="847.0" y2="484.5" stroke="#aacc00"/>
<line x1="838.4" y1="392.6" x2="891.4" y2="585.1" stroke="#aacc00"/>
<line x1="835.6" y1="393.4" x2="888.6" y2="585.9" stroke="#00a2c8"/>
<line x1="1115.0" y1="285.0" x2="1021.0" y2="386.0" stroke="#aacc00"/>
<line x1="1021.0" y1="386.0" x2="1157.0" y2="382.0" stroke="#aacc00"/>
<line x1="1021.0" y1="386.0" x2="847.0" y2="484.5" stroke="#aacc00"/>
<line x1="947.9" y1="401.1" x2="847.9" y2="485.6" stroke="#00a2c8"/>
<line x1="946.1" y1="398.9" x2="846.1" y2="483.4" stroke="#aacc00"/>
<line x1="847.0" y1="484.5" x2="969.0" y2="501.5" stroke="#aacc00"/>
<line x1="969.0" y1="501.5" x2="890.0" y2="585.5" stroke="#aacc00"/>
<line x1="889.9" y1="584.1" x2="1029.9" y2="576.6" stroke="#00a2c8"/>
<line x1="890.1" y1="586.9" x2="1030.1" y2="579.4" stroke="#aacc00"/>
<line x1="847.0" y1="484.5" x2="890.0" y2="585.5" stroke="#aacc00"/>
<line x1="847.0" y1="484.5" x2="883.0" y2="732.0" stroke="#aacc00"/>
<line x1="890.0" y1="585.5" x2="883.0" y2="732.0" stroke="#aacc00"/>
<line x1="755.0" y1="521.0" x2="847.0" y2="484.5" stroke="#aacc00"/>
<line x1="676.0" y1="549.5" x2="847.0" y2="484.5" stroke="#aacc00"/>
<line x1="755.0" y1="521.0" x2="890.0" y2="585.5" stroke="#aacc00"/>
<line x1="676.0" y1="549.5" x2="593.0" y2="616.5" stroke="#00a2c8"/>
<line x1="593.0" y1="616.5" x2="755.0" y2="521.0" stroke="#aacc00"/>
<line x1="593.9" y1="617.6" x2="489.9" y2="699.1" stroke="#aacc00"/>
<line x1="592.1" y1="615.4" x2="488.1" y2="696.9" stroke="#00a2c8"/>
<line x1="489.0" y1="698.0" x2="365.0" y2="804.0" stroke="#aacc00"/>
<line x1="676.0" y1="549.5" x2="753.0" y2="656.0" stroke="#aacc00"/>
<line x1="753.0" y1="656.0" x2="890.0" y2="585.5" stroke="#aacc00"/>
<line x1="753.0" y1="656.0" x2="883.0" y2="732.0" stroke="#aacc00"/>
<line x1="837.0" y1="393.0" x2="930.0" y2="676.0" stroke="#aacc00"/>
<line x1="890.0" y1="585.5" x2="1064.0" y2="713.0" stroke="#aacc00"/>
<line x1="932.2" y1="677.9" x2="885.2" y2="733.9" stroke="#d000d0"/>
<line x1="930.0" y1="676.0" x2="883.0" y2="732.0" stroke="#aacc00"/>
<line x1="927.8" y1="674.1" x2="880.8" y2="730.1" stroke="#8888ff"/>
<line x1="883.0" y1="732.0" x2="1064.0" y2="713.0" stroke="#aacc00"/>
<line x1="883.0" y1="732.0" x2="795.0" y2="839.5" stroke="#aacc00"/>
<line x1="883.0" y1="732.0" x2="886.0" y2="836.0" stroke="#aacc00"/>
<line x1="883.0" y1="732.0" x2="1070.0" y2="864.0" stroke="#aacc00"/>
<line x1="1064.0" y1="713.0" x2="1173.0" y2="766.0" stroke="#d000d0"/>
<line x1="1064.0" y1="713.0" x2="1155.0" y2="841.0" stroke="#aacc00"/>
<line x1="1173.0" y1="766.0" x2="1070.0" y2="864.0" stroke="#aacc00"/>
<line x1="1070.0" y1="864.0" x2="1155.0" y2="841.0" stroke="#d000d0"/>
<line x1="1070.0" y1="864.0" x2="1099.0" y2="966.0" stroke="#00a2c8"/>
<line x1="1101.5" y1="960.8" x2="1193.5" y2="1005.8" stroke="#0000ff"/>
<line x1="1100.3" y1="963.4" x2="1192.3" y2="1008.4" stroke="#00a2c8"/>
<line x1="1099.0" y1="966.0" x2="1191.0" y2="1011.0" stroke="#8888ff"/>
<line x1="1097.7" y1="968.6" x2="1189.7" y2="1013.6" stroke="#aacc00"/>
<line x1="1096.5" y1="971.2" x2="1188.5" y2="1016.2" stroke="#d000d0"/>
<line x1="1099.0" y1="966.0" x2="1084.0" y2="1128.7" stroke="#222222"/>
<line x1="502.8" y1="509.6" x2="616.8" y2="492.6" stroke="#aacc00"/>
<line x1="503.2" y1="512.4" x2="617.2" y2="495.4" stroke="#d000d0"/>
<line x1="622.5" y1="732.5" x2="736.0" y2="715.3" stroke="#aacc00"/>
<line x1="639.0" y1="783.5" x2="753.0" y2="766.0" stroke="#aacc00"/>
<line x1="795.0" y1="839.5" x2="752.0" y2="932.0" stroke="#d000d0"/>
</g>
<g>
<circle cx="736.0" cy="52.0" r="20.0" fill="url(#gd8d2a0)"/>
<circle cx="736.0" cy="52.0" r="20.0" fill="url(#rim)"/>
<g fill="none" stroke-width="1.3" stroke-linejoin="round" opacity="0.7"><polyline points="740.9,57.4 742.4,55.7 743.8,54.0 745.2,52.4 744.8,50.2 746.3,48.6 746.0,50.8 748.1,51.5 746.4,50.2 744.3,49.3 743.5,47.3 745.3,46.0 745.9,48.2 743.7,48.0 741.6,47.6 739.6,48.6 739.0,50.7 736.8,51.0 735.7,52.9 736.1,55.1 737.5,56.8 739.6,56.1 741.7,55.6 743.8,54.9 745.7,55.9 747.9,55.9 747.0,57.9 745.7,59.7 743.5,59.9 741.4,59.5 740.5,61.5 740.2,63.7 738.9,61.9 736.8,62.5 736.2,64.6 734.0,65.0 732.2,63.7 731.3,61.7 731.6,59.5" stroke="#c060c0"/></g>
<ellipse cx="736.0" cy="39.5" rx="12.1" ry="5.6" fill="url(#hl)"/>
<circle cx="812.0" cy="133.0" r="20.0" fill="url(#g9fd6b2)"/>
<circle cx="812.0" cy="133.0" r="20.0" fill="url(#rim)"/>
<g fill="none" stroke-width="1.3" stroke-linejoin="round" opacity="0.7"><polyline points="816.0,137.8 818.2,137.7 820.0,139.0 821.8,140.3 819.6,140.4 818.2,138.8 816.8,137.0 816.4,134.9 816.6,132.7 815.1,131.1 813.0,131.7 810.8,131.8 809.1,133.2 808.9,135.4 807.7,137.3 807.9,139.5 806.5,141.2 804.4,141.8 803.7,143.9 805.0,142.1 803.9,140.2 803.4,138.1 803.2,135.9 803.6,133.7 804.3,131.6 805.2,129.6 806.9,128.2 806.6,126.0 804.7,124.9 805.4,127.0 805.0,129.2 804.5,131.3 802.7,132.6 800.9,131.4 802.1,133.2 804.0,134.4 806.2,134.5 807.6,136.2 809.7,136.9" stroke="#8070d0"/></g>
<ellipse cx="812.0" cy="120.5" rx="12.1" ry="5.6" fill="url(#hl)"/>
<circle cx="265.0" cy="205.0" r="10.0" fill="url(#ga8c8e0)"/>
<circle cx="265.0" cy="205.0" r="10.0" fill="url(#rim)"/>

<ellipse cx="265.0" cy="198.8" rx="6.0" ry="2.8" fill="url(#hl)"/>
<circle cx="384.0" cy="188.0" r="10.0" fill="url(#ga4a4e2)"/>
<circle cx="384.0" cy="188.0" r="10.0" fill="url(#rim)"/>

<ellipse cx="384.0" cy="181.8" rx="6.0" ry="2.8" fill="url(#hl)"/>
<circle cx="927.0" cy="190.0" r="20.0" fill="url(#ga0aed6)"/>
<circle cx="927.0" cy="190.0" r="20.0" fill="url(#rim)"/>
<g fill="none" stroke-width="1.3" stroke-linejoin="round" opacity="0.7"><polyline points="929.4,188.5 930.4,190.4 930.2,192.6 928.2,193.7 926.1,194.2 924.5,195.8 922.4,196.2" stroke="#e04040"/><polyline points="922.4,196.2 921.2,194.4 919.0,194.0 917.4,192.5 917.2,190.3 919.2,189.6 920.8,191.1" stroke="#e0a020"/><polyline points="920.8,191.1 923.0,191.7 924.1,189.8 924.3,187.6 925.9,186.1 928.1,186.0 929.9,184.6" stroke="#a0c020"/><polyline points="929.9,184.6 931.8,185.6 931.8,187.8 934.0,188.4 936.1,188.8 938.3,188.3 936.1,188.5" stroke="#20b060"/><polyline points="936.1,188.5 934.1,187.5 932.0,187.9 930.4,189.4 928.3,188.8 926.9,190.6 924.9,191.6" stroke="#20a0c0"/><polyline points="924.9,191.6 923.3,190.2 921.1,190.3 918.9,189.9 916.7,189.4 915.2,191.0 914.7,193.1" stroke="#3050e0"/></g>
<ellipse cx="927.0" cy="177.5" rx="12.1" ry="5.6" fill="url(#hl)"/>
<circle cx="781.0" cy="227.5" r="20.0" fill="url(#ga2d8d8)"/>
<circle cx="781.0" cy="227.5" r="20.0" fill="url(#rim)"/>
<g fill="none" stroke-width="1.3" stroke-linejoin="round" opacity="0.7"><polyline points="780.0,231.8 780.0,234.0 778.0,235.0 775.9,234.5 774.2,233.0 772.1,232.4 770.8,234.1 773.0,234.1 774.5,232.6 774.1,230.4 772.0,229.6 769.9,229.0 769.4,226.9 770.7,225.1 772.9,224.8 774.4,226.4 774.0,228.6 774.0,230.8 774.6,232.9 774.0,235.0 773.7,237.2 773.7,239.4 775.6,238.3 776.8,236.4 778.5,235.1 780.6,234.5 781.9,232.7 781.2,230.7 780.2,228.7 780.4,226.5 781.5,224.6 783.7,224.7 785.9,225.0 788.1,224.9 788.9,227.0 790.2,228.7 788.8,230.4 786.7,229.8 784.8,228.7" stroke="#8070d0"/></g>
<ellipse cx="781.0" cy="215.0" rx="12.1" ry="5.6" fill="url(#hl)"/>
<circle cx="998.0" cy="225.0" r="20.0" fill="url(#g4aa8a4)"/>
<circle cx="998.0" cy="225.0" r="20.0" fill="url(#rim)"/>
<g fill="none" stroke-width="1.3" stroke-linejoin="round" opacity="0.7"><polyline points="1000.4,229.8 1001.8,231.5 1003.1,233.3 1005.2,232.6 1007.0,233.9 1009.0,232.9 1009.3,230.8 1008.3,232.7 1008.5,230.5 1009.6,228.6 1008.5,226.7 1006.4,226.1 1004.2,225.7 1002.8,224.1 1000.7,224.7 999.1,223.2 997.5,221.6 995.5,222.5 993.4,221.9 991.3,221.4 989.2,222.0 987.1,222.7 989.0,223.7 990.6,222.3 990.9,220.1 989.1,218.8 991.2,219.7 993.0,218.5 994.1,216.6 996.3,216.3 998.5,215.8 999.9,217.5 1000.6,219.5 998.8,220.7 996.7,221.4 995.1,222.9 996.1,224.8 998.2,224.2 999.7,225.8" stroke="#30a040"/></g>
<ellipse cx="998.0" cy="212.5" rx="12.1" ry="5.6" fill="url(#hl)"/>
<circle cx="616.0" cy="232.0" r="20.0" fill="url(#g9ca2d2)"/>
<circle cx="616.0" cy="232.0" r="20.0" fill="url(#rim)"/>
<g fill="none" stroke-width="1.3" stroke-linejoin="round" opacity="0.7"><polyline points="611.2,229.4 609.2,230.4 607.7,228.9 608.2,226.8 610.4,226.7 612.0,225.1 614.2,224.7 615.6,226.4 616.5,228.4 618.7,228.8 620.3,227.4 622.2,226.3 624.4,226.7 623.5,228.7 621.3,229.2 621.4,231.4 622.9,233.0 624.6,234.4 625.7,236.3 624.4,238.1 624.0,240.3 625.6,241.7 623.5,242.3 621.9,240.7 620.8,238.9 618.9,237.7 617.1,236.5 615.6,234.8 615.8,232.6 615.7,230.4 617.8,229.8 619.8,228.9 619.8,226.7 621.4,225.2 623.2,226.5 625.1,227.6 626.8,229.0 624.6,229.2 623.6,231.2" stroke="#30a080"/></g>
<ellipse cx="616.0" cy="219.5" rx="12.1" ry="5.6" fill="url(#hl)"/>
<circle cx="461.0" cy="239.0" r="20.0" fill="url(#g84ccb4)"/>
<circle cx="461.0" cy="239.0" r="20.0" fill="url(#rim)"/>
<g fill="none" stroke-width="1.3" stroke-linejoin="round" opacity="0.7"><polyline points="463.3,235.5 462.4,233.5 463.2,231.5 463.0,229.3 461.3,230.8 461.7,233.0 459.8,233.9" stroke="#e04040"/><polyline points="459.8,233.9 457.7,233.2 456.1,231.7 454.1,232.7 453.7,234.9 455.5,236.1 454.9,238.2" stroke="#e0a020"/><polyline points="454.9,238.2 454.3,240.3 454.3,242.5 455.7,244.2 455.4,246.4 453.4,247.1 451.7,248.6" stroke="#a0c020"/><polyline points="451.7,248.6 453.0,246.8 452.4,244.7 450.2,244.9 451.6,243.2 453.8,243.2 456.0,242.5" stroke="#20b060"/><polyline points="456.0,242.5 458.2,242.7 459.7,244.3 461.6,245.4 463.7,246.1 463.9,248.3 464.4,250.4" stroke="#20a0c0"/><polyline points="464.4,250.4 462.6,251.7 461.3,253.5 461.9,251.4 463.9,250.5 465.3,248.8 464.8,246.7" stroke="#3050e0"/></g>
<ellipse cx="461.0" cy="226.5" rx="12.1" ry="5.6" fill="url(#hl)"/>
<circle cx="317.0" cy="256.0" r="10.0" fill="url(#ga8e0c0)"/>
<circle cx="317.0" cy="256.0" r="10.0" fill="url(#rim)"/>

<ellipse cx="317.0" cy="249.8" rx="6.0" ry="2.8" fill="url(#hl)"/>
<circle cx="1115.0" cy="285.0" r="20.0" fill="url(#gbad890)"/>
<circle cx="1115.0" cy="285.0" r="20.0" fill="url(#rim)"/>
<g fill="none" stroke-width="1.3" stroke-linejoin="round" opacity="0.7"><polyline points="1114.2,290.9 1115.8,289.4 1116.4,287.3 1115.2,285.5 1114.0,283.6 1113.3,281.5 1113.3,279.3 1112.1,277.5 1113.2,275.7 1114.5,277.4 1114.2,279.6 1113.8,281.8 1113.0,283.8 1112.4,286.0 1111.7,288.0 1111.5,290.2 1111.2,292.4 1110.1,294.3 1111.5,296.0 1111.7,298.2 1113.3,296.7 1114.9,295.2 1116.1,293.4 1115.2,291.3 1113.0,291.4 1111.7,293.1 1109.7,292.3 1108.9,290.3 1109.0,288.1 1111.2,287.6 1113.3,288.3 1115.5,288.5 1117.6,288.1 1118.0,285.9 1117.1,283.9 1118.0,281.9 1119.7,280.5 1120.9,278.7 1119.7,276.8" stroke="#e05020"/></g>
<ellipse cx="1115.0" cy="272.5" rx="12.1" ry="5.6" fill="url(#hl)"/>
<circle cx="44.0" cy="288.0" r="10.0" fill="url(#ga2a2d8)"/>
<circle cx="44.0" cy="288.0" r="10.0" fill="url(#rim)"/>

<ellipse cx="44.0" cy="281.8" rx="6.0" ry="2.8" fill="url(#hl)"/>
<circle cx="572.0" cy="290.0" r="20.0" fill="url(#gacd29c)"/>
<circle cx="572.0" cy="290.0" r="20.0" fill="url(#rim)"/>
<g fill="none" stroke-width="1.3" stroke-linejoin="round" opacity="0.7"><polyline points="574.5,292.5 572.6,293.6 571.1,292.0 570.1,290.1 569.1,288.1 568.6,285.9 568.2,283.8 570.0,282.5 572.2,282.5 573.8,281.1 573.2,283.2 571.5,284.6 572.2,286.6 574.4,286.9 575.9,288.5 577.3,290.2 579.4,290.9 580.0,293.0 582.2,293.1 584.2,292.1 582.4,290.8 581.5,288.8 579.6,287.7 577.6,288.5 575.7,289.8 573.8,290.8 573.7,293.0 573.8,295.2 572.0,296.4 571.7,298.6 573.1,300.3 573.8,302.4 574.4,300.3 573.7,298.2 571.6,297.9 569.7,299.2 568.6,301.0 567.3,302.8 566.4,300.8" stroke="#9080a0"/></g>
<ellipse cx="572.0" cy="277.5" rx="12.1" ry="5.6" fill="url(#hl)"/>
<circle cx="705.0" cy="288.0" r="20.0" fill="url(#g92caa2)"/>
<circle cx="705.0" cy="288.0" r="20.0" fill="url(#rim)"/>
<g fill="none" stroke-width="1.3" stroke-linejoin="round" opacity="0.7"><polyline points="700.9,290.0 701.0,292.2 700.6,294.4 699.4,296.2 697.2,296.5 696.5,294.4 694.3,294.6 696.1,295.8 698.3,295.7 699.1,293.6 700.9,292.4 703.0,291.9 705.0,292.8 705.3,295.0 707.4,295.5 708.2,297.6 710.3,298.3 712.2,299.3 711.3,297.3 710.6,295.2 711.3,293.1 713.4,292.6 715.6,292.7 713.5,292.0 711.5,292.9 709.5,292.1 708.2,293.9 706.1,294.1 704.5,292.5 703.0,291.0 700.9,290.3 698.8,291.0 696.7,290.3 695.5,292.2 693.3,292.4 695.1,291.1 696.1,289.2 697.3,287.4 699.5,287.9" stroke="#8070d0"/></g>
<ellipse cx="705.0" cy="275.5" rx="12.1" ry="5.6" fill="url(#hl)"/>
<circle cx="367.0" cy="307.0" r="20.0" fill="url(#gd0d8a2)"/>
<circle cx="367.0" cy="307.0" r="20.0" fill="url(#rim)"/>
<g fill="none" stroke-width="1.3" stroke-linejoin="round" opacity="0.7"><polyline points="371.1,304.6 369.3,303.3 367.7,304.7 368.1,306.9 370.3,306.9 372.4,306.3 374.6,306.5 375.9,304.7 374.5,303.0 374.4,300.8 374.2,303.0 373.3,305.1 371.4,306.2 371.1,308.4 373.1,309.3 373.6,311.5 372.2,313.2 370.0,312.7 367.9,313.1 365.8,313.8 363.7,314.5 362.6,312.5 361.1,310.9 362.4,309.1 361.9,307.0 362.4,304.8 360.7,303.5 361.7,301.5 363.8,301.1 365.8,300.1 367.5,298.8 369.4,299.9 370.7,301.7 370.8,303.9 372.1,305.7 370.8,307.4 371.4,309.5 372.4,311.5 371.1,313.2" stroke="#c070c0"/></g>
<ellipse cx="367.0" cy="294.5" rx="12.1" ry="5.6" fill="url(#hl)"/>
<circle cx="996.0" cy="324.0" r="20.0" fill="url(#gd0d8a2)"/>
<circle cx="996.0" cy="324.0" r="20.0" fill="url(#rim)"/>
<g fill="none" stroke-width="1.3" stroke-linejoin="round" opacity="0.7"><polyline points="992.9,322.2 994.3,320.5 996.5,320.5 997.8,318.7 999.4,317.2 1000.1,315.1 997.9,315.2" stroke="#e04040"/><polyline points="997.9,315.2 995.8,314.6 993.6,314.1 995.8,314.5 997.1,316.3 996.2,318.3 997.2,320.3" stroke="#e0a020"/><polyline points="997.2,320.3 998.6,322.0 1000.4,323.2 1002.6,322.9 1004.8,323.0 1007.0,322.7 1004.8,322.2" stroke="#a0c020"/><polyline points="1004.8,322.2 1004.2,320.0 1006.0,318.8 1003.8,318.8 1001.7,319.3 1000.1,317.8 998.3,319.1" stroke="#20b060"/><polyline points="998.3,319.1 996.1,319.0 993.9,319.1 991.8,319.7 991.3,321.8 992.4,323.7 994.6,323.7" stroke="#20a0c0"/><polyline points="994.6,323.7 996.5,324.9 997.7,326.7 996.2,328.4 996.7,330.5 995.8,332.5 995.9,334.7" stroke="#3050e0"/></g>
<ellipse cx="996.0" cy="311.5" rx="12.1" ry="5.6" fill="url(#hl)"/>
<circle cx="132.0" cy="324.0" r="20.0" fill="url(#gd0d8a2)"/>
<circle cx="132.0" cy="324.0" r="20.0" fill="url(#rim)"/>
<g fill="none" stroke-width="1.3" stroke-linejoin="round" opacity="0.7"><polyline points="135.6,327.0 133.7,326.1 133.3,323.9 133.4,321.7 133.8,319.5 132.6,317.6 131.0,316.2 128.8,316.6 128.1,318.7 125.9,318.7 123.9,319.6 121.7,319.5 123.6,318.5 123.5,320.7 121.5,321.7 119.9,323.2 122.0,323.9 122.1,326.1 122.1,328.3 123.1,330.2 124.5,331.9 125.2,334.0 126.7,335.6 128.7,336.5 130.5,337.7 129.9,335.6 131.6,334.3 133.7,334.8 135.6,336.0 137.8,336.0 136.2,334.6 135.2,332.6 133.0,332.4 130.8,332.5 128.7,333.1 126.6,332.6 124.4,333.2 122.2,333.1 123.9,334.5" stroke="#c070c0"/></g>
<ellipse cx="132.0" cy="311.5" rx="12.1" ry="5.6" fill="url(#hl)"/>
<circle cx="249.0" cy="324.0" r="20.0" fill="url(#g9a9ad8)"/>
<circle cx="249.0" cy="324.0" r="20.0" fill="url(#rim)"/>
<g fill="none" stroke-width="1.3" stroke-linejoin="round" opacity="0.7"><polyline points="253.1,325.6 252.9,327.8 252.5,330.0 251.1,331.7 252.3,333.5 254.1,334.6 255.9,333.4" stroke="#e04040"/><polyline points="255.9,333.4 258.1,333.9 256.3,335.2 254.6,336.5 252.4,337.0 254.0,335.5 252.8,333.6" stroke="#e0a020"/><polyline points="252.8,333.6 250.7,333.0 248.5,333.5 247.8,335.6 246.9,337.6 246.7,335.4 245.8,333.4" stroke="#a0c020"/><polyline points="245.8,333.4 244.5,331.6 242.5,330.8 240.3,331.1 238.7,329.6 240.6,328.5 240.0,326.4" stroke="#20b060"/><polyline points="240.0,326.4 240.5,324.2 239.9,322.1 237.7,322.1 236.8,324.1 238.5,322.7 240.7,323.0" stroke="#20a0c0"/><polyline points="240.7,323.0 241.7,321.0 243.8,320.6 246.0,321.1 247.3,322.8 249.3,321.8 248.9,319.7" stroke="#3050e0"/></g>
<ellipse cx="249.0" cy="311.5" rx="12.1" ry="5.6" fill="url(#hl)"/>
<circle cx="588.0" cy="341.0" r="20.0" fill="url(#gd8ba9a)"/>
<circle cx="588.0" cy="341.0" r="20.0" fill="url(#rim)"/>
<g fill="none" stroke-width="1.3" stroke-linejoin="round" opacity="0.7"><polyline points="585.2,346.6 586.6,344.9 586.3,342.8 584.6,341.3 582.9,342.6 583.8,344.6 582.0,345.9" stroke="#e04040"/><polyline points="582.0,345.9 582.2,348.1 581.9,350.3 583.2,352.1 584.4,353.9 583.4,352.0 585.0,350.5" stroke="#e0a020"/><polyline points="585.0,350.5 586.4,348.9 587.9,347.3 589.2,345.4 588.9,343.2 588.6,341.1 586.4,340.6" stroke="#a0c020"/><polyline points="586.4,340.6 584.6,341.8 582.6,342.8 581.4,344.6 579.2,345.0 577.9,343.2 575.7,343.6" stroke="#20b060"/><polyline points="575.7,343.6 577.4,345.1 579.5,344.5 581.1,343.0 581.2,340.8 583.2,340.0 585.4,340.2" stroke="#20a0c0"/><polyline points="585.4,340.2 587.4,341.1 589.6,340.9 591.8,341.2 593.4,339.7 595.1,338.3 596.3,336.5" stroke="#3050e0"/></g>
<ellipse cx="588.0" cy="328.5" rx="12.1" ry="5.6" fill="url(#hl)"/>
<circle cx="758.0" cy="355.0" r="20.0" fill="url(#ge0b2b0)"/>
<circle cx="758.0" cy="355.0" r="20.0" fill="url(#rim)"/>
<g fill="none" stroke-width="1.3" stroke-linejoin="round" opacity="0.7"><polyline points="755.3,351.6 755.8,349.4 756.4,347.3 756.2,345.1 755.3,347.1 755.5,349.3 757.6,349.6" stroke="#e04040"/><polyline points="757.6,349.6 758.8,347.8 759.1,345.6 761.3,345.2 763.0,346.5 761.3,347.9 759.2,348.6" stroke="#e0a020"/><polyline points="759.2,348.6 757.4,349.9 757.9,352.0 756.0,353.1 754.4,354.6 752.2,354.6 750.6,356.2" stroke="#a0c020"/><polyline points="750.6,356.2 748.4,356.0 748.1,353.8 750.0,352.7 752.2,352.9 753.0,350.8 751.3,349.4" stroke="#20b060"/><polyline points="751.3,349.4 749.6,348.1 751.7,347.7 753.4,349.1 755.5,349.7 756.4,351.7 756.7,353.9" stroke="#20a0c0"/><polyline points="756.7,353.9 756.7,356.1 754.6,356.8 752.7,355.6 753.5,353.5 754.5,351.6 755.3,349.5" stroke="#3050e0"/></g>
<ellipse cx="758.0" cy="342.5" rx="12.1" ry="5.6" fill="url(#hl)"/>
<circle cx="419.0" cy="358.0" r="20.0" fill="url(#ge0b2aa)"/>
<circle cx="419.0" cy="358.0" r="20.0" fill="url(#rim)"/>
<g fill="none" stroke-width="1.3" stroke-linejoin="round" opacity="0.7"><polyline points="419.1,360.3 418.7,358.2 418.7,356.0 416.8,354.8 414.6,354.4 413.4,356.2 411.2,356.4" stroke="#e04040"/><polyline points="411.2,356.4 409.1,357.0 407.7,358.7 409.8,358.0 409.5,355.9 411.6,355.1 413.4,356.3" stroke="#e0a020"/><polyline points="413.4,356.3 415.0,357.7 416.8,356.4 419.0,356.4 420.2,358.3 419.4,360.4 418.0,362.1" stroke="#a0c020"/><polyline points="418.0,362.1 415.8,362.3 415.2,364.4 415.8,366.5 418.0,367.2 417.9,369.4 418.0,371.6" stroke="#20b060"/><polyline points="418.0,371.6 418.8,369.5 420.0,367.7 422.2,367.5 424.0,368.8 423.8,371.0 423.1,368.9" stroke="#20a0c0"/><polyline points="423.1,368.9 421.0,368.2 418.9,368.4 417.0,367.1 416.6,365.0 417.2,362.9 416.3,360.9" stroke="#3050e0"/></g>
<ellipse cx="419.0" cy="345.5" rx="12.1" ry="5.6" fill="url(#hl)"/>
<circle cx="279.0" cy="375.0" r="20.0" fill="url(#g92d2c2)"/>
<circle cx="279.0" cy="375.0" r="20.0" fill="url(#rim)"/>
<g fill="none" stroke-width="1.3" stroke-linejoin="round" opacity="0.7"><polyline points="278.6,376.6 280.1,378.2 282.2,378.9 283.9,377.5 284.6,375.4 286.3,374.0 287.5,372.1 289.4,371.0 287.9,372.6 289.1,374.5 289.6,376.6 291.3,378.1 289.2,377.3 288.8,375.1 286.9,373.9 284.8,373.4 282.8,372.4 282.0,370.4 279.8,370.0 278.4,368.3 278.8,366.1 280.1,367.8 278.8,369.6 276.7,370.1 274.7,369.2 273.1,367.7 272.8,369.9 270.7,370.6 271.9,372.4 273.8,373.6 274.7,375.6 273.2,377.3 271.8,378.9 270.3,380.5 269.7,382.7 271.0,380.8 273.2,380.8 274.7,379.2 276.9,379.3" stroke="#8070d0"/></g>
<ellipse cx="279.0" cy="362.5" rx="12.1" ry="5.6" fill="url(#hl)"/>
<circle cx="1021.0" cy="386.0" r="20.0" fill="url(#g92c8d2)"/>
<circle cx="1021.0" cy="386.0" r="20.0" fill="url(#rim)"/>
<g fill="none" stroke-width="1.3" stroke-linejoin="round" opacity="0.7"><polyline points="1022.5,391.9 1024.3,390.7 1025.8,389.1 1027.9,389.7 1029.0,391.6 1031.1,392.2 1029.4,390.7 1027.2,391.0 1025.5,392.3 1023.3,392.1 1021.9,393.8 1019.8,393.1 1018.4,394.8 1016.2,394.5 1014.3,395.5 1012.3,394.6 1014.1,393.4 1016.0,394.5 1018.2,394.5 1020.3,395.2 1022.5,395.0 1024.4,396.1 1024.2,398.2 1022.7,399.8 1020.5,399.9 1021.5,398.0 1023.2,396.5 1025.3,395.9 1027.2,396.9 1025.7,395.3 1023.5,395.3 1022.3,397.2 1020.1,397.3 1018.0,397.8 1016.5,399.4 1016.5,397.2 1015.1,395.6 1012.9,395.5 1014.2,393.7" stroke="#d03040"/></g>
<ellipse cx="1021.0" cy="373.5" rx="12.1" ry="5.6" fill="url(#hl)"/>
<circle cx="837.0" cy="393.0" r="20.0" fill="url(#gd8d8aa)"/>
<circle cx="837.0" cy="393.0" r="20.0" fill="url(#rim)"/>
<g fill="none" stroke-width="1.3" stroke-linejoin="round" opacity="0.7"><polyline points="835.0,390.3 833.3,388.9 831.4,387.9 830.1,386.1 831.7,384.5 831.5,386.7 832.8,388.5 834.4,390.0 835.2,392.0 835.3,394.2 835.0,396.4 833.7,398.2 831.6,397.6 829.5,396.9 827.9,395.5 825.9,394.6 826.3,392.4 827.8,394.0 829.2,395.7 828.6,397.9 830.4,399.1 829.6,401.2 831.4,402.5 831.0,404.6 832.7,406.0 831.4,404.3 833.5,403.5 834.0,401.4 834.4,399.2 834.8,397.0 836.7,395.9 838.9,396.1 839.8,394.1 839.9,391.9 838.9,389.9 839.0,387.7 838.7,385.5 837.2,384.0 835.3,382.9" stroke="#c080c0"/></g>
<ellipse cx="837.0" cy="380.5" rx="12.1" ry="5.6" fill="url(#hl)"/>
<circle cx="1157.0" cy="382.0" r="20.0" fill="url(#ga2d2e0)"/>
<circle cx="1157.0" cy="382.0" r="20.0" fill="url(#rim)"/>
<g fill="none" stroke-width="1.3" stroke-linejoin="round" opacity="0.7"><polyline points="1159.9,383.4 1159.6,385.6 1158.9,387.7 1158.1,389.7 1156.5,391.3 1154.8,392.6 1153.3,394.2 1151.1,394.0 1151.9,391.9 1151.5,389.8 1149.7,388.5 1147.5,388.6 1149.7,388.1 1151.2,389.7 1152.1,391.7 1154.3,391.3 1156.5,391.8 1158.4,392.9 1160.6,393.0 1161.9,394.7 1161.2,392.6 1162.8,391.1 1164.9,391.8 1166.7,390.6 1164.5,390.5 1163.1,388.9 1160.9,388.9 1159.3,390.5 1158.4,392.5 1156.2,392.4 1155.2,394.4 1153.3,395.5 1153.6,393.3 1153.1,391.2 1151.1,390.1 1149.2,389.1 1147.3,390.1 1149.4,389.5 1151.0,391.1" stroke="#8070d0"/></g>
<ellipse cx="1157.0" cy="369.5" rx="12.1" ry="5.6" fill="url(#hl)"/>
<circle cx="947.0" cy="400.0" r="20.0" fill="url(#ga2d8aa)"/>
<circle cx="947.0" cy="400.0" r="20.0" fill="url(#rim)"/>
<g fill="none" stroke-width="1.3" stroke-linejoin="round" opacity="0.7"><polyline points="945.1,399.6 946.1,401.6 948.3,401.5 949.9,400.0 951.0,398.1 950.7,395.9 949.3,394.2" stroke="#e04040"/><polyline points="949.3,394.2 947.1,394.1 946.0,392.2 943.8,392.6 943.0,390.5 941.6,392.2 942.7,394.1" stroke="#e0a020"/><polyline points="942.7,394.1 942.1,396.2 940.0,397.0 939.0,398.9 937.0,399.8 936.9,402.0 937.1,404.2" stroke="#a0c020"/><polyline points="937.1,404.2 937.7,406.3 939.7,407.1 941.6,408.2 943.6,407.1 944.8,405.3 946.3,403.7" stroke="#20b060"/><polyline points="946.3,403.7 948.2,402.6 950.4,402.5 952.6,402.8 953.0,404.9 952.4,407.1 954.3,408.2" stroke="#20a0c0"/><polyline points="954.3,408.2 956.2,409.3 954.3,408.2 953.0,406.5 950.8,406.1 948.8,405.2 948.0,403.2" stroke="#3050e0"/></g>
<ellipse cx="947.0" cy="387.5" rx="12.1" ry="5.6" fill="url(#hl)"/>
<circle cx="405.7" cy="402.0" r="10.0" fill="url(#gd8d8aa)"/>
<circle cx="405.7" cy="402.0" r="10.0" fill="url(#rim)"/>

<ellipse cx="405.7" cy="395.8" rx="6.0" ry="2.8" fill="url(#hl)"/>
<circle cx="541.0" cy="395.0" r="20.0" fill="url(#gcad8a2)"/>
<circle cx="541.0" cy="395.0" r="20.0" fill="url(#rim)"/>
<g fill="none" stroke-width="1.3" stroke-linejoin="round" opacity="0.7"><polyline points="543.9,391.9 542.5,393.6 541.3,395.4 541.6,397.6 540.1,399.2 541.2,401.1 541.0,403.2 542.4,404.9 544.1,406.4 544.2,408.6 545.4,406.7 547.3,405.5 545.3,404.5 543.2,405.0 541.0,405.2 539.4,406.7 537.2,406.3 536.2,404.3 535.4,402.3 536.1,400.2 534.9,398.4 536.0,396.4 537.9,395.3 539.7,396.5 540.0,398.7 538.2,400.0 536.3,401.2 535.1,403.1 533.3,404.3 533.5,406.5 535.3,407.8 537.4,408.4 539.6,408.7 538.2,407.1 538.2,404.9 539.6,403.2 540.3,401.1 542.5,401.0 544.7,401.3" stroke="#30a080"/></g>
<ellipse cx="541.0" cy="382.5" rx="12.1" ry="5.6" fill="url(#hl)"/>
<circle cx="283.0" cy="443.0" r="20.0" fill="url(#ga2d0dc)"/>
<circle cx="283.0" cy="443.0" r="20.0" fill="url(#rim)"/>
<g fill="none" stroke-width="1.3" stroke-linejoin="round" opacity="0.7"><polyline points="279.0,448.7 281.2,448.5 282.8,447.0 284.3,445.4 284.6,443.2 282.6,442.4 282.4,440.2 280.5,439.0 278.9,437.6 279.9,435.7 279.5,433.5 278.6,435.5 279.0,437.7 278.5,439.8 276.6,441.0 276.0,443.1 274.4,444.6 274.7,446.8 274.9,449.0 276.5,450.5 276.1,452.7 275.4,454.8 273.6,453.5 274.4,451.4 273.2,449.6 275.4,450.2 276.7,448.4 276.6,446.2 276.8,444.0 274.8,443.0 274.5,440.8 276.0,439.3 276.2,437.1 278.3,436.4 279.3,434.4 280.8,432.7 281.7,434.7 281.0,436.9 282.6,438.4" stroke="#8070d0"/></g>
<ellipse cx="283.0" cy="430.5" rx="12.1" ry="5.6" fill="url(#hl)"/>
<circle cx="684.0" cy="432.0" r="20.0" fill="url(#ga6acd6)"/>
<circle cx="684.0" cy="432.0" r="20.0" fill="url(#rim)"/>
<g fill="none" stroke-width="1.3" stroke-linejoin="round" opacity="0.7"><polyline points="688.0,434.9 689.4,436.6 691.5,437.4 693.3,436.2 695.0,434.8 693.5,436.4 691.8,437.8 692.3,440.0 694.1,441.2 693.4,439.1 691.2,439.0 689.9,440.7 691.2,442.5 689.2,441.6 687.1,442.3 686.6,444.5 688.6,445.4 686.4,445.0 686.1,442.9 687.6,441.2 686.8,439.2 686.4,437.0 684.2,436.8 683.5,434.7 684.0,432.6 684.5,430.4 683.0,428.8 682.0,426.9 679.9,426.4 677.8,425.9 675.6,425.4 677.8,425.5 678.8,423.5 680.5,424.9 682.5,425.6 682.2,427.8 680.1,428.6 680.4,430.8 678.5,432.0" stroke="#8070d0"/></g>
<ellipse cx="684.0" cy="419.5" rx="12.1" ry="5.6" fill="url(#hl)"/>
<circle cx="504.0" cy="460.0" r="20.0" fill="url(#g92d2aa)"/>
<circle cx="504.0" cy="460.0" r="20.0" fill="url(#rim)"/>
<g fill="none" stroke-width="1.3" stroke-linejoin="round" opacity="0.7"><polyline points="502.7,465.8 503.7,467.7 505.7,468.7 507.8,468.0 507.9,465.8 509.5,464.2 510.5,462.3 512.2,460.8 511.9,458.6 509.9,457.7 507.8,457.4 506.0,456.1 504.1,457.3 503.3,459.4 501.1,459.8 499.0,459.3 498.0,457.3 495.8,457.5 493.7,457.1 495.7,456.3 497.9,456.8 498.6,458.8 498.8,461.0 500.2,462.7 501.3,464.6 500.6,466.7 500.8,468.9 499.7,470.9 498.4,472.6 499.2,470.6 501.3,469.8 502.7,471.5 504.8,471.9 506.9,471.3 507.1,469.1 506.7,466.9 505.8,464.9 507.2,463.2 509.1,464.3" stroke="#8080b0"/></g>
<ellipse cx="504.0" cy="447.5" rx="12.1" ry="5.6" fill="url(#hl)"/>
<circle cx="1030.0" cy="460.0" r="20.0" fill="url(#gaad8a2)"/>
<circle cx="1030.0" cy="460.0" r="20.0" fill="url(#rim)"/>
<g fill="none" stroke-width="1.3" stroke-linejoin="round" opacity="0.7"><polyline points="1032.1,462.8 1030.3,461.5 1030.4,459.3 1030.6,457.1 1031.2,454.9 1031.2,452.7 1029.7,451.1" stroke="#e04040"/><polyline points="1029.7,451.1 1027.7,452.0 1025.5,451.9 1023.9,453.5 1022.0,454.5 1021.3,456.6 1021.1,458.8" stroke="#e0a020"/><polyline points="1021.1,458.8 1020.1,460.8 1017.9,460.4 1019.4,458.8 1021.5,459.6 1022.4,461.6 1023.4,463.6" stroke="#a0c020"/><polyline points="1023.4,463.6 1024.8,465.2 1026.8,464.3 1029.0,464.8 1028.9,467.0 1027.1,468.2 1027.8,470.3" stroke="#20b060"/><polyline points="1027.8,470.3 1029.6,471.6 1031.5,472.8 1030.3,470.9 1031.0,468.9 1033.2,468.7 1033.9,466.7" stroke="#20a0c0"/><polyline points="1033.9,466.7 1033.9,464.5 1036.1,464.1 1037.7,462.5 1037.6,460.3 1038.2,458.2 1040.4,457.7" stroke="#3050e0"/></g>
<ellipse cx="1030.0" cy="447.5" rx="12.1" ry="5.6" fill="url(#hl)"/>
<circle cx="847.0" cy="484.5" r="20.0" fill="url(#gd8d8aa)"/>
<circle cx="847.0" cy="484.5" r="20.0" fill="url(#rim)"/>
<g fill="none" stroke-width="1.3" stroke-linejoin="round" opacity="0.7"><polyline points="842.6,486.3 840.5,485.7 839.1,487.4 838.6,489.6 837.5,491.5 838.3,493.5 839.7,491.8 840.5,489.8 841.1,487.6 840.6,485.5 838.4,485.2 837.2,487.0 835.5,488.4 837.3,489.6 836.9,491.7 838.1,489.9 838.0,487.7 836.2,486.5 837.9,487.8 839.9,487.1 842.1,486.5 843.4,484.8 845.6,484.2 847.8,484.3 849.9,484.9 851.5,483.4 853.7,483.5 854.8,481.6 855.6,479.6 853.8,478.3 851.7,478.8 850.5,480.6 848.3,480.7 846.1,481.2 844.8,482.9 843.1,484.3 843.8,486.4 845.8,487.3 847.1,485.6" stroke="#c070c0"/></g>
<ellipse cx="847.0" cy="472.0" rx="12.1" ry="5.6" fill="url(#hl)"/>
<circle cx="265.0" cy="494.0" r="20.0" fill="url(#g9ac2d8)"/>
<circle cx="265.0" cy="494.0" r="20.0" fill="url(#rim)"/>
<g fill="none" stroke-width="1.3" stroke-linejoin="round" opacity="0.7"><polyline points="268.6,494.2 268.8,492.0 269.7,490.0 270.9,488.2 270.6,486.0 268.6,485.1 266.6,486.1 264.7,487.2 262.7,486.2 261.4,488.0 261.6,490.2 260.7,492.2 260.8,494.4 259.5,496.2 260.9,497.9 262.4,499.5 264.6,499.6 266.8,499.8 269.0,500.1 270.5,501.7 272.7,501.9 274.8,501.4 275.1,499.2 273.8,497.4 275.3,495.8 275.9,493.6 274.7,495.5 273.5,497.3 272.7,499.4 272.0,501.5 270.8,503.3 268.6,503.5 267.3,505.2 266.0,507.1 263.8,507.3 265.8,506.3 267.9,507.0 269.9,506.0 267.7,505.4" stroke="#8070d0"/></g>
<ellipse cx="265.0" cy="481.5" rx="12.1" ry="5.6" fill="url(#hl)"/>
<circle cx="384.0" cy="494.3" r="10.0" fill="url(#gd8d0a2)"/>
<circle cx="384.0" cy="494.3" r="10.0" fill="url(#rim)"/>

<ellipse cx="384.0" cy="488.1" rx="6.0" ry="2.8" fill="url(#hl)"/>
<circle cx="503.0" cy="511.0" r="20.0" fill="url(#g9abad8)"/>
<circle cx="503.0" cy="511.0" r="20.0" fill="url(#rim)"/>
<g fill="none" stroke-width="1.3" stroke-linejoin="round" opacity="0.7"><polyline points="500.1,511.8 502.3,511.5 504.0,512.8 505.4,514.6 505.3,516.8 507.5,517.4 509.6,516.9" stroke="#e04040"/><polyline points="509.6,516.9 510.6,518.9 511.4,520.9 509.2,521.1 508.2,523.0 506.2,524.0 505.6,521.9" stroke="#e0a020"/><polyline points="505.6,521.9 506.4,519.8 508.6,520.0 509.7,518.1 509.4,515.9 510.6,514.1 512.8,514.3" stroke="#a0c020"/><polyline points="512.8,514.3 513.0,516.5 510.9,517.2 509.8,519.1 507.6,519.0 505.6,519.9 504.9,522.0" stroke="#20b060"/><polyline points="504.9,522.0 506.2,523.8 504.1,523.1 501.9,523.4 500.1,522.1 498.4,520.7 496.2,520.4" stroke="#20a0c0"/><polyline points="496.2,520.4 494.5,519.0 492.3,518.9 494.5,519.3 496.2,520.6 495.6,522.7 497.5,523.9" stroke="#3050e0"/></g>
<ellipse cx="503.0" cy="498.5" rx="12.1" ry="5.6" fill="url(#hl)"/>
<circle cx="617.0" cy="494.0" r="20.0" fill="url(#ga2d2dc)"/>
<circle cx="617.0" cy="494.0" r="20.0" fill="url(#rim)"/>
<g fill="none" stroke-width="1.3" stroke-linejoin="round" opacity="0.7"><polyline points="612.9,490.2 610.9,489.2 608.9,488.2 610.7,489.6 612.5,490.8 611.6,492.9 612.1,495.0 612.8,497.1 614.9,498.0 615.8,499.9 615.3,502.1 617.2,503.3 619.2,502.6 620.8,501.0 622.9,500.5 624.8,499.4 625.4,497.3 627.1,495.9 628.8,497.3 627.2,495.8 625.2,494.9 624.8,492.7 624.2,490.6 622.0,490.6 620.4,489.1 620.5,486.9 618.9,485.4 619.7,487.4 621.8,488.0 621.7,490.2 621.4,492.4 619.6,493.6 617.4,493.4 615.2,492.9 613.1,492.8 610.9,493.2 609.6,495.0 608.3,496.8 609.5,498.6" stroke="#8070d0"/></g>
<ellipse cx="617.0" cy="481.5" rx="12.1" ry="5.6" fill="url(#hl)"/>
<circle cx="969.0" cy="501.5" r="20.0" fill="url(#gaad8a2)"/>
<circle cx="969.0" cy="501.5" r="20.0" fill="url(#rim)"/>
<g fill="none" stroke-width="1.3" stroke-linejoin="round" opacity="0.7"><polyline points="971.8,506.9 969.6,507.3 969.1,509.5 967.6,511.1 966.9,513.2 964.9,514.2 965.8,512.2 965.5,510.0 963.7,508.7 964.4,506.6 964.7,504.4 965.6,502.4 967.8,502.1 969.9,502.7 971.1,504.6 973.1,505.4 975.0,504.3 974.9,502.1 975.3,499.9 976.1,497.9 975.1,495.9 976.7,494.3 976.4,496.5 977.5,498.4 979.2,499.9 978.0,501.8 976.3,503.2 974.2,502.6 972.6,501.0 972.2,498.9 970.2,497.9 968.1,497.2 967.1,499.1 967.0,501.3 965.5,502.8 963.4,502.1 961.3,501.3 960.0,499.6 958.0,500.5" stroke="#9070c0"/></g>
<ellipse cx="969.0" cy="489.0" rx="12.1" ry="5.6" fill="url(#hl)"/>
<circle cx="1099.0" cy="511.0" r="20.0" fill="url(#gaac2e0)"/>
<circle cx="1099.0" cy="511.0" r="20.0" fill="url(#rim)"/>
<g fill="none" stroke-width="1.3" stroke-linejoin="round" opacity="0.7"><polyline points="1096.3,510.4 1097.0,508.3 1095.4,506.9 1095.4,504.7 1093.6,503.5 1095.5,504.5 1097.6,503.7" stroke="#e04040"/><polyline points="1097.6,503.7 1099.6,502.9 1101.5,504.0 1103.7,504.0 1105.8,503.2 1103.7,502.5 1102.0,501.0" stroke="#e0a020"/><polyline points="1102.0,501.0 1103.0,503.0 1105.0,504.0 1103.5,505.6 1101.5,504.6 1100.6,502.6 1099.4,500.8" stroke="#a0c020"/><polyline points="1099.4,500.8 1101.6,501.1 1099.9,502.5 1098.1,503.8 1097.2,505.8 1095.0,505.8 1093.3,507.2" stroke="#20b060"/><polyline points="1093.3,507.2 1093.9,509.3 1094.2,511.5 1094.5,513.7 1094.6,515.9 1095.8,517.7 1098.0,517.9" stroke="#20a0c0"/><polyline points="1098.0,517.9 1099.4,519.5 1100.2,521.6 1100.5,523.8 1100.8,521.6 1102.6,520.4 1104.3,519.0" stroke="#3050e0"/></g>
<ellipse cx="1099.0" cy="498.5" rx="12.1" ry="5.6" fill="url(#hl)"/>
<circle cx="755.0" cy="521.0" r="20.0" fill="url(#g92d2ba)"/>
<circle cx="755.0" cy="521.0" r="20.0" fill="url(#rim)"/>
<g fill="none" stroke-width="1.3" stroke-linejoin="round" opacity="0.7"><polyline points="755.7,522.9 757.9,522.3 760.0,522.6 762.2,522.5 764.3,521.9 764.5,519.7 762.4,518.8" stroke="#e04040"/><polyline points="762.4,518.8 760.4,519.7 760.6,521.9 761.2,524.0 763.4,523.8 763.9,521.6 766.0,521.0" stroke="#e0a020"/><polyline points="766.0,521.0 764.1,519.9 761.9,520.4 759.8,520.7 757.6,521.2 757.1,523.3 758.6,524.8" stroke="#a0c020"/><polyline points="758.6,524.8 760.5,526.0 762.7,526.0 764.4,527.3 765.5,529.3 764.3,531.1 765.4,529.2" stroke="#20b060"/><polyline points="765.4,529.2 763.2,529.1 762.5,531.2 761.5,533.1 762.5,531.2 760.8,529.8 759.7,527.9" stroke="#20a0c0"/><polyline points="759.7,527.9 758.0,526.4 756.7,524.7 754.7,523.9 752.6,523.2 751.5,521.3 749.5,520.3" stroke="#3050e0"/></g>
<ellipse cx="755.0" cy="508.5" rx="12.1" ry="5.6" fill="url(#hl)"/>
<circle cx="265.0" cy="545.0" r="10.0" fill="url(#gaad2e0)"/>
<circle cx="265.0" cy="545.0" r="10.0" fill="url(#rim)"/>

<ellipse cx="265.0" cy="538.8" rx="6.0" ry="2.8" fill="url(#hl)"/>
<circle cx="384.0" cy="545.5" r="10.0" fill="url(#gd8caa2)"/>
<circle cx="384.0" cy="545.5" r="10.0" fill="url(#rim)"/>

<ellipse cx="384.0" cy="539.2" rx="6.0" ry="2.8" fill="url(#hl)"/>
<circle cx="676.0" cy="549.5" r="20.0" fill="url(#ga2d2d8)"/>
<circle cx="676.0" cy="549.5" r="20.0" fill="url(#rim)"/>
<g fill="none" stroke-width="1.3" stroke-linejoin="round" opacity="0.7"><polyline points="679.8,554.0 678.5,552.2 677.0,550.6 677.5,548.5 678.2,546.4 680.2,545.4 681.8,544.0 681.9,541.8 682.9,543.7 685.0,543.1 682.9,542.4 681.3,543.9 679.2,543.2 677.0,543.6 676.7,545.7 678.4,547.1 680.6,546.6 681.6,544.6 681.3,542.4 679.5,543.7 677.7,542.4 675.5,542.7 674.9,544.8 676.2,546.7 674.9,548.5 673.3,549.9 671.1,550.0 668.9,549.7 667.1,548.5 666.0,546.6 666.6,544.4 668.7,543.7 670.9,543.8 672.6,542.5 674.5,543.7 676.7,543.8 677.4,545.9 676.8,548.0 674.8,549.0" stroke="#8070d0"/></g>
<ellipse cx="676.0" cy="537.0" rx="12.1" ry="5.6" fill="url(#hl)"/>
<circle cx="555.0" cy="562.0" r="20.0" fill="url(#gbcbc62)"/>
<circle cx="555.0" cy="562.0" r="20.0" fill="url(#rim)"/>
<g fill="none" stroke-width="1.3" stroke-linejoin="round" opacity="0.7"><polyline points="556.1,564.6 558.2,565.2 560.2,566.1 560.2,568.3 558.5,569.7 558.5,571.9 559.8,573.6" stroke="#e04040"/><polyline points="559.8,573.6 562.0,574.0 562.8,572.0 563.8,570.0 561.7,569.5 560.0,571.0 560.2,573.1" stroke="#e0a020"/><polyline points="560.2,573.1 558.1,573.7 556.9,575.6 554.7,575.4 553.4,573.6 552.0,571.9 550.3,570.6" stroke="#a0c020"/><polyline points="550.3,570.6 548.3,571.6 548.3,573.8 548.7,571.6 548.7,569.4 548.1,567.3 549.1,565.4" stroke="#20b060"/><polyline points="549.1,565.4 551.0,564.4 552.9,563.2 554.8,564.2 556.6,563.1 558.4,561.7 560.4,562.6" stroke="#20a0c0"/><polyline points="560.4,562.6 561.4,564.5 563.6,564.9 563.8,567.1 561.7,567.8 559.7,566.9 559.8,564.7" stroke="#3050e0"/></g>
<ellipse cx="555.0" cy="549.5" rx="12.1" ry="5.6" fill="url(#hl)"/>
<circle cx="1030.0" cy="578.0" r="20.0" fill="url(#gbad89a)"/>
<circle cx="1030.0" cy="578.0" r="20.0" fill="url(#rim)"/>
<g fill="none" stroke-width="1.3" stroke-linejoin="round" opacity="0.7"><polyline points="1028.2,583.9 1030.3,584.4 1032.3,585.3 1034.5,585.2 1036.7,585.1 1038.9,585.2 1040.2,583.4 1038.1,583.9 1036.6,582.3 1034.6,583.2 1034.6,585.4 1035.5,587.4 1036.8,589.1 1034.9,588.0 1032.7,588.2 1030.7,589.1 1031.3,591.3 1031.2,589.1 1030.3,587.1 1028.6,585.7 1026.6,586.6 1024.6,585.8 1022.4,585.3 1020.3,585.9 1022.3,584.9 1023.9,583.4 1024.0,581.2 1024.4,579.0 1024.7,576.8 1025.9,575.0 1027.1,573.2 1027.1,571.0 1025.2,569.8 1027.3,570.3 1027.7,572.5 1029.9,572.7 1031.6,574.1 1033.5,572.9 1034.5,570.9" stroke="#e05020"/></g>
<ellipse cx="1030.0" cy="565.5" rx="12.1" ry="5.6" fill="url(#hl)"/>
<circle cx="890.0" cy="585.5" r="20.0" fill="url(#g9ad2b2)"/>
<circle cx="890.0" cy="585.5" r="20.0" fill="url(#rim)"/>
<g fill="none" stroke-width="1.3" stroke-linejoin="round" opacity="0.7"><polyline points="894.5,584.9 894.7,587.1 896.7,588.1 897.9,590.0 899.6,591.3 897.6,590.3 896.3,592.1 894.1,592.2 892.9,590.4 890.8,590.7 888.7,591.5 889.0,593.7 888.0,595.6 887.2,597.7 885.1,598.4 887.3,598.1 888.2,596.1 888.4,593.9 889.8,592.2 891.5,590.8 893.3,589.6 895.5,589.9 897.5,590.9 898.4,592.9 898.6,595.0 898.0,592.9 895.8,592.8 893.8,593.7 892.4,595.4 892.0,597.5 893.7,599.0 891.8,597.8 889.6,597.8 887.4,598.1 888.1,596.0 890.3,596.0 891.6,594.3 893.6,593.4 895.2,591.9" stroke="#a0a020"/></g>
<ellipse cx="890.0" cy="573.0" rx="12.1" ry="5.6" fill="url(#hl)"/>
<circle cx="317.0" cy="596.0" r="20.0" fill="url(#g92d29a)"/>
<circle cx="317.0" cy="596.0" r="20.0" fill="url(#rim)"/>
<g fill="none" stroke-width="1.3" stroke-linejoin="round" opacity="0.7"><polyline points="316.6,594.2 315.9,592.1 316.4,589.9 318.1,588.6 319.4,586.8 319.6,589.0 321.5,590.1" stroke="#e04040"/><polyline points="321.5,590.1 323.3,588.8 321.9,590.5 321.5,592.6 323.0,594.3 323.6,596.4 322.4,598.3" stroke="#e0a020"/><polyline points="322.4,598.3 323.7,600.0 325.9,600.1 327.4,598.4 328.2,596.4 326.5,595.1 324.3,595.6" stroke="#a0c020"/><polyline points="324.3,595.6 322.3,596.4 321.1,594.5 321.3,592.3 320.4,590.3 318.2,590.5 317.0,588.7" stroke="#20b060"/><polyline points="317.0,588.7 315.3,587.2 316.0,589.3 317.3,591.1 319.5,591.0 321.6,591.7 323.2,590.2" stroke="#20a0c0"/><polyline points="323.2,590.2 322.1,588.3 320.0,587.6 318.6,589.4 317.1,591.0 317.8,593.1 318.5,595.1" stroke="#3050e0"/></g>
<ellipse cx="317.0" cy="583.5" rx="12.1" ry="5.6" fill="url(#hl)"/>
<circle cx="435.0" cy="596.0" r="20.0" fill="url(#ge0aaaa)"/>
<circle cx="435.0" cy="596.0" r="20.0" fill="url(#rim)"/>
<g fill="none" stroke-width="1.3" stroke-linejoin="round" opacity="0.7"><polyline points="430.2,592.8 432.3,592.4 434.1,593.7 436.0,592.7 436.8,590.7 439.0,591.0 440.2,589.1 439.4,587.1 437.7,588.5 435.6,587.8 434.2,589.4 432.3,588.3 430.1,588.0 431.9,589.2 431.4,591.4 432.8,593.1 433.3,595.2 432.1,597.0 430.1,598.0 428.8,599.8 426.6,599.8 425.1,601.4 427.2,600.6 427.5,598.4 426.0,596.8 425.5,594.7 424.2,593.0 426.3,592.7 427.1,594.7 425.3,595.9 423.9,597.7 423.5,599.8 425.4,601.0 427.4,601.9 428.7,603.7 430.8,603.0 432.4,604.5 434.5,603.9 434.6,601.7" stroke="#c070c0"/></g>
<ellipse cx="435.0" cy="583.5" rx="12.1" ry="5.6" fill="url(#hl)"/>
<circle cx="593.0" cy="616.5" r="20.0" fill="url(#gd8d2aa)"/>
<circle cx="593.0" cy="616.5" r="20.0" fill="url(#rim)"/>
<g fill="none" stroke-width="1.3" stroke-linejoin="round" opacity="0.7"><polyline points="597.8,618.2 595.8,619.2 595.3,621.3 596.6,623.0 598.8,623.0 601.0,623.2 602.6,624.7 600.5,624.1 598.9,625.7 598.9,627.9 597.1,629.2 595.3,627.9 593.4,629.0 591.9,630.6 593.2,628.8 595.2,629.7 597.1,628.5 596.8,626.3 598.5,624.9 597.4,623.0 595.2,623.3 593.2,622.4 591.9,620.6 592.8,618.6 593.0,616.4 594.3,614.6 596.2,613.5 598.3,612.9 600.1,611.6 599.8,609.4 597.8,608.5 596.5,610.3 597.8,612.1 600.0,612.2 602.2,612.1 600.4,613.4 598.4,614.2 596.2,614.6 594.6,616.1" stroke="#c080c0"/></g>
<ellipse cx="593.0" cy="604.0" rx="12.1" ry="5.6" fill="url(#hl)"/>
<circle cx="1030.0" cy="630.5" r="20.0" fill="url(#g92ca92)"/>
<circle cx="1030.0" cy="630.5" r="20.0" fill="url(#rim)"/>
<g fill="none" stroke-width="1.3" stroke-linejoin="round" opacity="0.7"><polyline points="1034.4,630.7 1032.2,630.3 1030.1,629.9 1028.3,631.2 1028.7,633.3 1030.3,634.8 1029.2,636.7 1027.8,638.4 1026.7,640.3 1027.0,642.5 1026.9,640.3 1026.2,638.2 1024.8,636.5 1025.2,634.4 1024.7,632.2 1022.5,631.9 1020.9,633.4 1018.7,633.3 1020.7,632.4 1022.5,631.2 1021.8,629.2 1022.8,627.2 1023.8,625.2 1025.8,624.5 1025.9,622.3 1027.7,621.1 1028.5,623.1 1030.7,623.0 1031.9,621.1 1031.4,623.3 1029.4,624.2 1027.2,623.6 1026.3,625.5 1024.1,625.4 1022.0,626.1 1020.0,627.1 1022.0,628.1 1024.2,628.3 1024.8,630.4" stroke="#30a040"/></g>
<ellipse cx="1030.0" cy="618.0" rx="12.1" ry="5.6" fill="url(#hl)"/>
<circle cx="351.0" cy="647.0" r="20.0" fill="url(#gb2d29a)"/>
<circle cx="351.0" cy="647.0" r="20.0" fill="url(#rim)"/>
<g fill="none" stroke-width="1.3" stroke-linejoin="round" opacity="0.7"><polyline points="346.6,643.2 344.4,643.1 342.3,643.8 340.5,645.0 342.2,646.3 344.0,647.6 343.9,649.8 345.4,651.5 345.7,653.6 344.3,655.3 342.1,655.3 344.2,655.1 345.5,657.0 347.3,658.3 349.4,657.6 349.2,655.4 350.5,653.6 350.2,651.4 348.1,650.7 346.0,651.2 345.7,653.4 346.9,655.2 348.6,656.6 350.8,656.8 352.0,658.6 350.7,660.4 348.7,659.8 346.6,660.6 344.7,659.5 346.7,660.3 344.9,659.1 345.7,657.1 346.2,654.9 344.6,653.5 344.9,651.3 347.1,651.2 349.3,651.4 351.3,650.5 351.3,648.3" stroke="#a070b0"/></g>
<ellipse cx="351.0" cy="634.5" rx="12.1" ry="5.6" fill="url(#hl)"/>
<circle cx="469.0" cy="647.0" r="20.0" fill="url(#g92c2d8)"/>
<circle cx="469.0" cy="647.0" r="20.0" fill="url(#rim)"/>
<g fill="none" stroke-width="1.3" stroke-linejoin="round" opacity="0.7"><polyline points="466.3,652.5 464.4,651.3 462.2,651.6 460.3,652.7 458.3,652.0 460.5,652.1 462.0,650.5" stroke="#e04040"/><polyline points="462.0,650.5 464.2,650.3 466.3,649.6 468.4,650.3 469.2,652.3 468.3,654.3 468.4,656.5" stroke="#e0a020"/><polyline points="468.4,656.5 469.8,658.2 470.9,660.1 469.2,661.5 471.4,661.1 470.5,659.1 468.3,658.9" stroke="#a0c020"/><polyline points="468.3,658.9 467.7,656.8 465.6,656.1 463.5,656.5 461.3,656.0 459.8,654.4 458.1,653.1" stroke="#20b060"/><polyline points="458.1,653.1 457.8,650.9 459.6,652.2 461.8,651.9 463.8,651.0 464.4,648.9 463.2,647.1" stroke="#20a0c0"/><polyline points="463.2,647.1 461.1,646.5 459.1,647.4 457.3,646.2 459.3,645.4 460.0,643.3 459.4,641.2" stroke="#3050e0"/></g>
<ellipse cx="469.0" cy="634.5" rx="12.1" ry="5.6" fill="url(#hl)"/>
<circle cx="753.0" cy="656.0" r="20.0" fill="url(#gd8a2aa)"/>
<circle cx="753.0" cy="656.0" r="20.0" fill="url(#rim)"/>
<g fill="none" stroke-width="1.3" stroke-linejoin="round" opacity="0.7"><polyline points="757.5,660.6 759.3,661.7 761.2,660.6 760.4,658.5 758.2,658.3 756.1,658.8 754.9,657.0 756.3,655.3 758.3,656.2 759.1,658.2 761.2,658.5 762.9,657.1 763.4,654.9 761.5,656.0 761.6,658.2 761.0,660.3 762.8,661.6 764.8,660.6 764.7,658.4 762.7,657.3 761.1,655.8 759.5,654.4 760.1,652.3 761.9,651.1 761.9,653.3 764.0,653.8 762.0,654.7 759.9,655.4 757.7,655.5 755.6,655.1 753.4,654.4 751.4,653.6 751.7,651.4 750.2,649.8 748.0,650.0 747.1,648.0 745.9,649.8 743.9,650.7 744.2,652.8" stroke="#c070c0"/></g>
<ellipse cx="753.0" cy="643.5" rx="12.1" ry="5.6" fill="url(#hl)"/>
<circle cx="640.0" cy="664.3" r="10.0" fill="url(#ge0c2a2)"/>
<circle cx="640.0" cy="664.3" r="10.0" fill="url(#rim)"/>

<ellipse cx="640.0" cy="658.0" rx="6.0" ry="2.8" fill="url(#hl)"/>
<circle cx="930.0" cy="676.0" r="20.0" fill="url(#gd8baa2)"/>
<circle cx="930.0" cy="676.0" r="20.0" fill="url(#rim)"/>
<g fill="none" stroke-width="1.3" stroke-linejoin="round" opacity="0.7"><polyline points="934.3,672.1 933.7,674.2 934.0,676.4 932.7,678.1 930.5,677.6 928.7,678.7 926.5,678.7 924.5,677.8 922.4,676.9 922.1,674.8 921.6,672.6 922.5,670.6 921.8,668.5 923.6,669.8 925.3,668.5 927.0,667.0 928.1,669.0 927.2,671.0 927.8,673.1 928.4,675.2 930.3,676.4 931.6,678.2 933.1,679.8 935.3,680.2 937.3,681.1 938.9,679.7 938.8,677.5 940.5,676.0 941.9,674.4 939.7,674.6 937.6,674.3 935.6,673.3 934.0,671.8 934.8,669.8 935.3,667.6 933.3,668.5 931.1,668.0 929.7,669.7 927.5,669.4" stroke="#c060c0"/></g>
<ellipse cx="930.0" cy="663.5" rx="12.1" ry="5.6" fill="url(#hl)"/>
<circle cx="248.0" cy="715.0" r="20.0" fill="url(#g9a9ad8)"/>
<circle cx="248.0" cy="715.0" r="20.0" fill="url(#rim)"/>
<g fill="none" stroke-width="1.3" stroke-linejoin="round" opacity="0.7"><polyline points="244.5,716.5 246.4,717.5 248.6,717.3 250.8,717.2 253.0,716.9 254.6,715.4 254.4,713.2" stroke="#e04040"/><polyline points="254.4,713.2 256.0,711.7 255.9,709.5 254.0,710.7 251.8,711.1 250.5,709.3 251.1,707.2" stroke="#e0a020"/><polyline points="251.1,707.2 252.3,705.4 250.1,705.1 252.3,705.7 252.5,707.8 254.6,708.3 256.8,708.4" stroke="#a0c020"/><polyline points="256.8,708.4 257.5,710.4 258.4,712.5 259.1,714.5 257.4,715.9 255.5,714.9 255.9,712.7" stroke="#20b060"/><polyline points="255.9,712.7 258.1,712.5 255.9,712.5 253.7,713.0 253.6,715.2 251.5,715.9 249.4,716.4" stroke="#20a0c0"/><polyline points="249.4,716.4 248.9,718.6 249.4,720.7 251.5,720.8 253.6,721.7 255.7,722.3 256.7,724.3" stroke="#3050e0"/></g>
<ellipse cx="248.0" cy="702.5" rx="12.1" ry="5.6" fill="url(#hl)"/>
<circle cx="367.0" cy="698.4" r="10.0" fill="url(#gd8d8aa)"/>
<circle cx="367.0" cy="698.4" r="10.0" fill="url(#rim)"/>

<ellipse cx="367.0" cy="692.1" rx="6.0" ry="2.8" fill="url(#hl)"/>
<circle cx="489.0" cy="698.0" r="20.0" fill="url(#g9292d2)"/>
<circle cx="489.0" cy="698.0" r="20.0" fill="url(#rim)"/>
<g fill="none" stroke-width="1.3" stroke-linejoin="round" opacity="0.7"><polyline points="484.7,698.2 486.3,696.8 487.4,694.9 487.0,692.7 484.8,692.7 483.9,694.8 485.5,696.3 487.7,695.9 489.2,697.5 491.1,696.4 492.6,698.0 494.3,699.4 493.5,701.4 491.6,702.6 492.1,704.7 490.2,705.8 488.0,705.9 486.4,704.4 484.4,705.3 484.4,707.5 483.7,709.6 485.2,707.9 485.9,705.8 486.2,703.6 488.4,703.1 489.5,701.3 491.6,700.5 493.8,700.6 496.0,700.4 496.6,702.5 495.6,704.4 493.5,703.8 492.2,702.0 492.8,699.9 494.7,698.7 495.9,696.9 498.1,697.3 499.4,699.0 501.3,700.1" stroke="#8060d0"/></g>
<ellipse cx="489.0" cy="685.5" rx="12.1" ry="5.6" fill="url(#hl)"/>
<circle cx="622.5" cy="732.5" r="20.0" fill="url(#gbad89a)"/>
<circle cx="622.5" cy="732.5" r="20.0" fill="url(#rim)"/>
<g fill="none" stroke-width="1.3" stroke-linejoin="round" opacity="0.7"><polyline points="620.4,732.7 618.5,731.5 616.8,732.9 615.2,734.4 615.0,736.6 612.9,737.1 612.6,739.3 612.7,741.5 614.8,742.0 617.0,742.0 617.7,739.9 619.9,739.7 622.1,740.0 624.0,738.9 623.7,736.7 623.3,734.6 623.1,732.4 623.2,730.2 624.3,728.3 625.8,726.7 625.9,724.5 626.4,726.7 627.6,728.5 628.5,730.5 628.9,732.7 631.1,732.9 632.7,734.4 633.9,736.3 632.7,738.1 631.6,736.2 632.9,734.5 632.3,732.4 630.3,731.5 629.7,729.3 630.7,727.4 629.7,729.4 627.5,729.3 625.4,729.1 623.3,729.9" stroke="#30a080"/></g>
<ellipse cx="622.5" cy="720.0" rx="12.1" ry="5.6" fill="url(#hl)"/>
<circle cx="736.0" cy="715.3" r="10.0" fill="url(#gaa9ae0)"/>
<circle cx="736.0" cy="715.3" r="10.0" fill="url(#rim)"/>

<ellipse cx="736.0" cy="709.0" rx="6.0" ry="2.8" fill="url(#hl)"/>
<circle cx="1064.0" cy="713.0" r="20.0" fill="url(#gd8c2a2)"/>
<circle cx="1064.0" cy="713.0" r="20.0" fill="url(#rim)"/>
<g fill="none" stroke-width="1.3" stroke-linejoin="round" opacity="0.7"><polyline points="1068.2,714.3 1066.0,714.7 1064.3,716.1 1064.2,718.3 1062.7,719.9 1063.9,721.7 1065.8,722.8 1067.9,722.3 1069.5,723.8 1068.4,725.7 1066.4,726.5 1064.9,724.9 1064.1,722.8 1062.0,722.2 1060.7,720.4 1058.7,719.5 1056.6,720.0 1055.3,721.8 1057.4,722.2 1059.6,722.3 1060.3,724.4 1062.4,725.3 1063.8,727.0 1061.7,726.4 1061.3,724.2 1059.1,724.2 1057.1,725.2 1059.3,725.1 1060.6,723.3 1060.6,721.1 1058.6,720.3 1059.1,718.1 1058.1,716.1 1055.9,715.8 1053.7,715.9 1052.3,714.2 1054.3,715.0 1055.1,717.1 1057.1,717.8" stroke="#c060c0"/></g>
<ellipse cx="1064.0" cy="700.5" rx="12.1" ry="5.6" fill="url(#hl)"/>
<circle cx="883.0" cy="732.0" r="20.0" fill="url(#ga2a6da)"/>
<circle cx="883.0" cy="732.0" r="20.0" fill="url(#rim)"/>
<g fill="none" stroke-width="1.3" stroke-linejoin="round" opacity="0.7"><polyline points="879.4,736.9 878.9,734.7 879.7,732.7 881.8,732.1 883.0,733.9 881.8,735.7 879.7,736.4 877.6,736.2 876.1,734.6 873.9,734.7 871.7,735.1 872.7,733.1 872.0,731.0 873.6,729.5 875.7,728.7 876.8,730.6 875.6,732.5 873.8,733.8 872.7,735.6 872.4,737.8 874.5,738.4 875.7,736.6 876.9,734.8 879.1,734.2 879.3,732.0 878.4,729.9 876.3,730.3 874.4,731.5 872.6,730.3 873.8,732.1 873.3,734.3 872.5,736.3 873.9,734.6 876.1,734.8 877.6,736.4 877.5,738.6 875.5,739.5 873.4,740.3 875.3,741.4" stroke="#9060e0"/></g>
<ellipse cx="883.0" cy="719.5" rx="12.1" ry="5.6" fill="url(#hl)"/>
<circle cx="248.0" cy="766.0" r="20.0" fill="url(#g9a9ad8)"/>
<circle cx="248.0" cy="766.0" r="20.0" fill="url(#rim)"/>
<g fill="none" stroke-width="1.3" stroke-linejoin="round" opacity="0.7"><polyline points="247.4,765.1 247.4,762.9 245.3,762.2 243.1,761.8 240.9,762.1 240.4,764.3 240.0,766.4" stroke="#e04040"/><polyline points="240.0,766.4 239.7,768.6 239.2,770.8 239.1,773.0 238.7,775.1 240.9,774.8 241.6,776.9" stroke="#e0a020"/><polyline points="241.6,776.9 243.6,777.8 245.8,777.9 246.4,775.8 248.6,775.5 250.6,776.4 252.0,774.7" stroke="#a0c020"/><polyline points="252.0,774.7 254.2,774.2 256.2,773.3 258.1,774.4 255.9,774.0 253.8,774.3 251.7,773.6" stroke="#20b060"/><polyline points="251.7,773.6 249.5,773.8 247.5,772.9 245.3,772.5 243.3,773.3 241.8,771.7 239.9,770.6" stroke="#20a0c0"/><polyline points="239.9,770.6 239.2,768.5 238.9,766.3 238.6,764.1 236.8,762.8 238.4,764.4 237.6,766.5" stroke="#3050e0"/></g>
<ellipse cx="248.0" cy="753.5" rx="12.1" ry="5.6" fill="url(#hl)"/>
<circle cx="367.0" cy="749.0" r="10.0" fill="url(#gd8d8aa)"/>
<circle cx="367.0" cy="749.0" r="10.0" fill="url(#rim)"/>

<ellipse cx="367.0" cy="742.8" rx="6.0" ry="2.8" fill="url(#hl)"/>
<circle cx="753.0" cy="766.0" r="20.0" fill="url(#gd8baa2)"/>
<circle cx="753.0" cy="766.0" r="20.0" fill="url(#rim)"/>
<g fill="none" stroke-width="1.3" stroke-linejoin="round" opacity="0.7"><polyline points="749.6,764.3 748.8,762.3 748.2,760.2 749.9,758.8 749.3,756.7 749.9,758.8 749.7,761.0 750.8,762.9 752.0,764.8 754.1,765.4 754.2,767.6 754.2,769.8 755.9,771.1 756.0,773.3 758.0,774.1 760.2,773.8 761.9,772.4 764.1,772.6 762.0,773.3 761.0,775.3 758.8,775.6 757.5,773.9 756.8,771.8 754.6,771.6 754.4,769.4 755.0,767.2 753.8,765.4 755.1,763.7 757.2,764.5 757.2,766.7 756.8,768.9 758.4,770.4 760.6,770.4 762.5,769.4 764.6,768.7 764.5,766.5 763.2,768.3 761.1,769.0 760.1,771.0" stroke="#c080c0"/></g>
<ellipse cx="753.0" cy="753.5" rx="12.1" ry="5.6" fill="url(#hl)"/>
<circle cx="1173.0" cy="766.0" r="20.0" fill="url(#g92d2b2)"/>
<circle cx="1173.0" cy="766.0" r="20.0" fill="url(#rim)"/>
<g fill="none" stroke-width="1.3" stroke-linejoin="round" opacity="0.7"><polyline points="1171.6,768.6 1172.3,766.5 1171.2,764.6 1169.3,763.5 1167.1,763.7 1165.8,765.4 1163.7,766.1 1161.6,765.6 1161.6,763.4 1162.8,765.2 1165.0,765.0 1166.5,763.3 1168.4,764.5 1170.2,763.3 1172.4,763.5 1174.4,762.6 1175.9,760.9 1178.0,761.4 1179.8,760.0 1178.2,761.6 1176.4,760.3 1176.5,758.1 1176.0,760.2 1173.8,760.2 1172.5,758.4 1171.1,756.7 1168.9,756.5 1171.1,756.7 1173.0,755.7 1171.4,757.1 1169.3,756.2 1169.2,758.4 1170.8,760.0 1173.0,760.1 1174.7,761.4 1176.9,761.2 1177.8,763.2 1176.5,765.0 1177.8,766.7" stroke="#8070d0"/></g>
<ellipse cx="1173.0" cy="753.5" rx="12.1" ry="5.6" fill="url(#hl)"/>
<circle cx="1013.7" cy="766.6" r="20.0" fill="url(#ga2d29a)"/>
<circle cx="1013.7" cy="766.6" r="20.0" fill="url(#rim)"/>
<g fill="none" stroke-width="1.3" stroke-linejoin="round" opacity="0.7"><polyline points="1011.4,767.0 1009.2,767.1 1008.8,764.9 1008.1,762.8 1009.8,761.4 1011.8,760.4 1012.9,758.5" stroke="#e04040"/><polyline points="1012.9,758.5 1015.0,759.3 1017.2,759.5 1019.3,758.9 1017.8,760.5 1016.2,762.0 1015.9,764.2" stroke="#e0a020"/><polyline points="1015.9,764.2 1017.8,765.3 1017.9,767.5 1016.4,769.0 1016.0,771.2 1017.5,772.8 1017.1,775.0" stroke="#a0c020"/><polyline points="1017.1,775.0 1016.6,777.1 1016.9,779.3 1015.0,778.2 1014.0,776.2 1012.8,774.4 1010.6,774.3" stroke="#20b060"/><polyline points="1010.6,774.3 1010.0,776.4 1008.1,777.6 1009.1,775.6 1009.7,773.5 1011.3,772.0 1013.5,772.0" stroke="#20a0c0"/><polyline points="1013.5,772.0 1014.0,769.8 1013.2,767.8 1013.9,765.7 1014.0,763.5 1015.4,761.8 1016.1,759.7" stroke="#3050e0"/></g>
<ellipse cx="1013.7" cy="754.1" rx="12.1" ry="5.6" fill="url(#hl)"/>
<circle cx="521.0" cy="783.0" r="20.0" fill="url(#g52aa52)"/>
<circle cx="521.0" cy="783.0" r="20.0" fill="url(#rim)"/>
<g fill="none" stroke-width="1.3" stroke-linejoin="round" opacity="0.7"><polyline points="525.8,780.1 525.2,778.0 527.1,776.9 529.2,776.6 531.1,777.7 529.0,778.1 526.8,778.3 525.3,780.0 523.3,780.9 522.8,783.1 522.1,785.1 520.1,786.0 519.3,788.1 518.8,790.2 518.2,792.3 516.9,794.1 518.4,795.8 519.2,793.8 518.7,791.6 518.7,789.4 518.5,787.2 516.5,786.4 514.3,786.1 513.3,784.1 511.1,784.4 510.0,786.3 511.9,785.2 513.4,783.6 514.7,781.8 515.8,779.9 515.9,777.7 514.0,776.6 515.3,778.4 516.8,780.0 519.0,779.8 520.7,781.1 521.1,783.3 521.0,785.5 520.0,787.5" stroke="#406040"/></g>
<ellipse cx="521.0" cy="770.5" rx="12.1" ry="5.6" fill="url(#hl)"/>
<circle cx="639.0" cy="783.5" r="10.0" fill="url(#g92d8c2)"/>
<circle cx="639.0" cy="783.5" r="10.0" fill="url(#rim)"/>

<ellipse cx="639.0" cy="777.2" rx="6.0" ry="2.8" fill="url(#hl)"/>
<circle cx="365.0" cy="804.0" r="20.0" fill="url(#gd8c2a2)"/>
<circle cx="365.0" cy="804.0" r="20.0" fill="url(#rim)"/>
<g fill="none" stroke-width="1.3" stroke-linejoin="round" opacity="0.7"><polyline points="367.5,807.0 369.1,808.5 369.2,810.7 369.9,812.8 368.1,813.9 368.6,816.1 366.8,817.4 365.1,816.0 365.9,814.0 364.3,812.5 362.2,811.8 360.4,810.5 360.4,808.3 358.4,807.6 358.0,805.4 358.3,803.2 359.3,801.3 359.3,799.1 357.8,797.4 359.9,798.2 362.0,798.7 363.0,800.7 362.5,802.8 363.5,804.8 364.0,806.9 366.1,807.8 368.2,807.4 368.5,805.3 367.5,803.3 367.3,801.1 366.1,799.3 364.0,798.6 362.2,799.8 362.6,802.0 364.7,802.5 366.1,800.8 365.6,798.7 366.7,796.8 368.8,797.4" stroke="#c060c0"/></g>
<ellipse cx="365.0" cy="791.5" rx="12.1" ry="5.6" fill="url(#hl)"/>
<circle cx="247.7" cy="817.5" r="10.0" fill="url(#gaabae0)"/>
<circle cx="247.7" cy="817.5" r="10.0" fill="url(#rim)"/>

<ellipse cx="247.7" cy="811.2" rx="6.0" ry="2.8" fill="url(#hl)"/>
<circle cx="555.0" cy="834.4" r="10.0" fill="url(#ge0b2b2)"/>
<circle cx="555.0" cy="834.4" r="10.0" fill="url(#rim)"/>

<ellipse cx="555.0" cy="828.1" rx="6.0" ry="2.8" fill="url(#hl)"/>
<circle cx="673.0" cy="834.4" r="10.0" fill="url(#g5a6ac2)"/>
<circle cx="673.0" cy="834.4" r="10.0" fill="url(#rim)"/>

<ellipse cx="673.0" cy="828.1" rx="6.0" ry="2.8" fill="url(#hl)"/>
<circle cx="795.0" cy="839.5" r="20.0" fill="url(#gd8d2a2)"/>
<circle cx="795.0" cy="839.5" r="20.0" fill="url(#rim)"/>
<g fill="none" stroke-width="1.3" stroke-linejoin="round" opacity="0.7"><polyline points="794.3,845.0 793.1,843.1 790.9,843.2 788.9,844.0 786.9,843.2 784.7,843.5 783.7,841.5" stroke="#e04040"/><polyline points="783.7,841.5 783.1,839.4 785.3,839.6 786.2,841.6 787.3,843.5 786.0,845.3 784.7,847.1" stroke="#e0a020"/><polyline points="784.7,847.1 786.8,847.8 786.6,850.0 788.1,851.6 786.8,849.8 787.4,847.6 789.5,847.3" stroke="#a0c020"/><polyline points="789.5,847.3 791.5,848.3 793.7,848.0 795.7,847.1 797.3,848.7 799.1,847.4 799.8,845.3" stroke="#20b060"/><polyline points="799.8,845.3 798.7,843.4 796.5,843.0 794.5,842.3 793.0,840.7 790.9,841.4 789.8,839.6" stroke="#20a0c0"/><polyline points="789.8,839.6 790.5,837.5 789.1,835.7 788.3,833.7 788.7,831.5 789.6,833.6 791.7,834.0" stroke="#3050e0"/></g>
<ellipse cx="795.0" cy="827.0" rx="12.1" ry="5.6" fill="url(#hl)"/>
<circle cx="886.0" cy="836.0" r="20.0" fill="url(#ga2d2a2)"/>
<circle cx="886.0" cy="836.0" r="20.0" fill="url(#rim)"/>
<g fill="none" stroke-width="1.3" stroke-linejoin="round" opacity="0.7"><polyline points="889.7,834.1 891.9,833.8 893.3,832.1 895.5,832.1 893.4,832.8 892.4,834.8 890.3,834.2 888.1,834.0 886.6,832.5 886.9,830.3 888.5,828.8 890.7,829.3 890.8,831.5 890.0,833.6 887.9,834.0 886.6,832.2 887.9,830.5 887.8,828.3 889.9,827.5 892.1,827.6 893.4,829.3 894.6,831.1 892.4,831.2 890.3,830.6 888.4,831.6 886.3,832.4 885.5,834.5 887.2,835.9 887.2,838.1 886.2,840.1 887.0,842.1 886.8,844.3 887.6,846.3 888.7,848.2 887.5,850.0 887.1,847.8 885.3,846.6 883.1,846.3 881.7,844.5" stroke="#9080a0"/></g>
<ellipse cx="886.0" cy="823.5" rx="12.1" ry="5.6" fill="url(#hl)"/>
<circle cx="1155.0" cy="841.0" r="20.0" fill="url(#g9ad2b2)"/>
<circle cx="1155.0" cy="841.0" r="20.0" fill="url(#rim)"/>
<g fill="none" stroke-width="1.3" stroke-linejoin="round" opacity="0.7"><polyline points="1154.9,837.9 1152.7,837.6 1150.7,838.5 1150.0,840.6 1148.1,841.7 1146.0,842.4 1143.8,841.9 1145.4,840.3 1146.3,838.3 1145.1,836.5 1146.3,834.6 1145.1,836.5 1144.9,838.7 1144.9,840.9 1146.5,842.3 1147.4,844.4 1145.7,845.8 1145.3,848.0 1145.4,850.2 1146.5,852.1 1146.1,850.0 1148.3,850.0 1149.6,851.8 1151.1,853.4 1150.5,851.3 1149.0,849.7 1148.9,847.5 1149.2,845.3 1151.3,844.8 1153.5,845.3 1153.9,847.4 1152.4,849.0 1151.5,851.0 1149.3,851.3 1147.3,852.2 1148.4,850.3 1150.0,848.7 1152.1,849.3 1153.7,850.8" stroke="#9080a0"/></g>
<ellipse cx="1155.0" cy="828.5" rx="12.1" ry="5.6" fill="url(#hl)"/>
<circle cx="316.0" cy="868.0" r="20.0" fill="url(#g92d29a)"/>
<circle cx="316.0" cy="868.0" r="20.0" fill="url(#rim)"/>
<g fill="none" stroke-width="1.3" stroke-linejoin="round" opacity="0.7"><polyline points="311.4,872.9 309.9,871.3 310.5,869.2 311.3,867.1 313.5,867.0 315.7,867.0 316.2,869.2 316.4,871.4 317.9,873.0 317.3,875.1 317.1,877.3 315.8,879.1 313.7,879.3 311.7,878.2 309.8,879.2 309.2,877.0 311.0,875.6 311.0,873.4 309.7,871.6 307.5,872.0 306.4,870.0 305.9,867.9 307.8,866.8 307.8,864.6 306.0,863.2 306.1,865.4 307.6,867.0 308.9,868.8 307.6,870.6 305.5,871.4 307.3,870.0 306.6,868.0 307.9,866.2 310.0,865.5 310.3,863.3 312.2,862.2 311.9,860.1 312.2,862.2 313.0,864.3" stroke="#8070d0"/></g>
<ellipse cx="316.0" cy="855.5" rx="12.1" ry="5.6" fill="url(#hl)"/>
<circle cx="435.3" cy="868.0" r="20.0" fill="url(#ge0aaaa)"/>
<circle cx="435.3" cy="868.0" r="20.0" fill="url(#rim)"/>
<g fill="none" stroke-width="1.3" stroke-linejoin="round" opacity="0.7"><polyline points="434.0,871.1 431.8,871.2 431.3,869.1 430.5,867.0 430.9,864.8 432.6,863.4 434.7,863.1" stroke="#e04040"/><polyline points="434.7,863.1 435.3,861.0 436.6,859.2 436.5,861.4 437.1,863.5 436.0,865.4 434.9,867.3" stroke="#e0a020"/><polyline points="434.9,867.3 434.6,869.5 432.5,869.7 430.9,871.3 428.9,872.2 427.3,870.7 428.1,868.7" stroke="#a0c020"/><polyline points="428.1,868.7 430.2,868.9 430.6,871.1 430.3,873.2 428.2,873.6 426.0,873.1 423.9,873.8" stroke="#20b060"/><polyline points="423.9,873.8 425.8,875.0 427.9,874.3 429.6,875.8 430.7,877.6 429.1,879.1 430.2,881.0" stroke="#20a0c0"/><polyline points="430.2,881.0 428.5,879.6 426.9,878.0 429.1,878.3 430.4,880.1 432.6,879.9 434.0,881.6" stroke="#3050e0"/></g>
<ellipse cx="435.3" cy="855.5" rx="12.1" ry="5.6" fill="url(#hl)"/>
<circle cx="1070.0" cy="864.0" r="20.0" fill="url(#g9ad8d2)"/>
<circle cx="1070.0" cy="864.0" r="20.0" fill="url(#rim)"/>
<g fill="none" stroke-width="1.3" stroke-linejoin="round" opacity="0.7"><polyline points="1073.6,860.2 1071.4,860.9 1069.8,862.3 1068.8,864.3 1067.9,866.3 1067.0,868.3 1065.5,869.9 1064.4,871.8 1062.3,871.3 1060.5,870.1 1061.2,868.0 1063.3,867.8 1064.2,869.8 1066.4,870.0 1067.6,871.8 1069.8,872.1 1071.9,871.3 1074.0,871.1 1075.2,873.0 1073.8,874.7 1074.5,876.8 1073.8,874.7 1074.3,872.5 1076.2,871.3 1076.5,869.1 1078.5,868.4 1080.7,868.1 1078.6,868.6 1076.4,868.1 1075.1,866.4 1073.8,864.6 1072.0,863.4 1069.8,863.4 1068.4,865.1 1067.2,867.0 1065.9,868.8 1063.9,869.8 1064.6,871.9 1066.8,872.2" stroke="#8070d0"/></g>
<ellipse cx="1070.0" cy="851.5" rx="12.1" ry="5.6" fill="url(#hl)"/>
<circle cx="555.0" cy="885.0" r="20.0" fill="url(#gd8b2a2)"/>
<circle cx="555.0" cy="885.0" r="20.0" fill="url(#rim)"/>
<g fill="none" stroke-width="1.3" stroke-linejoin="round" opacity="0.7"><polyline points="555.5,889.3 554.2,887.5 552.1,886.9 551.0,888.8 550.2,890.9 551.4,892.7 552.6,894.5 551.6,896.5 552.4,898.5 551.6,896.5 551.8,894.3 552.8,892.4 555.0,892.5 555.7,890.4 554.3,888.7 553.1,886.9 551.4,885.4 550.8,883.3 549.2,881.7 547.1,881.4 545.1,882.4 547.2,883.0 547.4,885.2 548.8,887.0 549.5,889.0 549.8,891.2 549.9,893.4 549.0,895.4 547.2,896.6 548.6,895.0 548.1,892.8 548.4,890.6 549.0,888.5 551.2,888.6 552.7,890.2 553.3,892.3 552.4,894.4 550.2,894.4 548.4,893.1" stroke="#c060c0"/></g>
<ellipse cx="555.0" cy="872.5" rx="12.1" ry="5.6" fill="url(#hl)"/>
<circle cx="674.0" cy="885.0" r="20.0" fill="url(#gd8baaa)"/>
<circle cx="674.0" cy="885.0" r="20.0" fill="url(#rim)"/>
<g fill="none" stroke-width="1.3" stroke-linejoin="round" opacity="0.7"><polyline points="677.5,885.5 679.6,885.0 681.2,883.5 680.4,881.5 680.2,879.3 681.6,877.6 680.3,879.3" stroke="#e04040"/><polyline points="680.3,879.3 678.7,880.9 678.5,883.1 680.5,884.0 682.1,885.6 681.2,887.6 682.7,889.2" stroke="#e0a020"/><polyline points="682.7,889.2 684.8,889.9 682.6,890.3 680.4,890.5 678.6,891.7 676.4,891.3 674.7,890.0" stroke="#a0c020"/><polyline points="674.7,890.0 672.7,889.0 673.2,886.9 671.7,885.3 670.7,883.4 669.0,881.9 667.4,880.4" stroke="#20b060"/><polyline points="667.4,880.4 665.3,880.9 664.6,883.0 663.0,884.4 662.0,886.4 663.0,884.4 662.9,882.2" stroke="#20a0c0"/><polyline points="662.9,882.2 664.4,880.6 666.6,880.2 668.5,881.2 670.2,882.6 672.4,883.1 673.8,884.8" stroke="#3050e0"/></g>
<ellipse cx="674.0" cy="872.5" rx="12.1" ry="5.6" fill="url(#hl)"/>
<circle cx="946.0" cy="885.0" r="20.0" fill="url(#ge0baaa)"/>
<circle cx="946.0" cy="885.0" r="20.0" fill="url(#rim)"/>
<g fill="none" stroke-width="1.3" stroke-linejoin="round" opacity="0.7"><polyline points="944.6,884.8 946.6,884.1 947.8,885.9 949.7,887.2 951.5,885.9 952.9,884.2 953.7,882.2 955.4,880.9 953.3,881.4 953.5,883.6 951.9,885.1 952.8,887.1 952.3,889.2 951.7,891.4 953.3,892.9 955.3,893.8 956.7,892.1 955.7,890.1 955.9,888.0 954.8,886.1 952.8,885.1 950.6,885.3 950.5,887.5 952.2,888.9 952.4,891.0 950.6,892.3 948.5,891.8 947.9,889.7 949.4,888.1 948.5,886.1 947.2,884.3 946.1,882.4 947.1,880.5 945.5,878.9 943.4,878.4 941.2,878.3 939.0,878.6 936.8,879.0 938.5,880.4" stroke="#c060c0"/></g>
<ellipse cx="946.0" cy="872.5" rx="12.1" ry="5.6" fill="url(#hl)"/>
<circle cx="317.0" cy="919.0" r="20.0" fill="url(#g92d29a)"/>
<circle cx="317.0" cy="919.0" r="20.0" fill="url(#rim)"/>
<g fill="none" stroke-width="1.3" stroke-linejoin="round" opacity="0.7"><polyline points="317.8,918.1 315.9,917.0 314.4,915.3 312.5,916.3 312.8,918.5 314.3,920.1 316.1,921.5" stroke="#e04040"/><polyline points="316.1,921.5 318.1,922.2 320.0,921.0 321.3,919.2 323.3,920.0 325.5,920.0 326.3,922.1" stroke="#e0a020"/><polyline points="326.3,922.1 324.8,923.7 322.6,923.6 321.3,921.8 321.4,919.6 319.5,918.5 319.3,916.3" stroke="#a0c020"/><polyline points="319.3,916.3 321.4,915.7 322.2,913.6 323.2,911.7 321.8,910.0 319.8,909.1 321.0,910.9" stroke="#20b060"/><polyline points="321.0,910.9 319.9,912.8 317.8,913.3 316.3,911.7 314.2,912.6 312.1,912.2 310.2,911.0" stroke="#20a0c0"/><polyline points="310.2,911.0 312.4,911.1 314.4,912.0 314.7,914.2 314.5,916.4 315.3,918.4 314.7,920.5" stroke="#3050e0"/></g>
<ellipse cx="317.0" cy="906.5" rx="12.1" ry="5.6" fill="url(#hl)"/>
<circle cx="436.0" cy="919.5" r="10.0" fill="url(#gd8d2aa)"/>
<circle cx="436.0" cy="919.5" r="10.0" fill="url(#rim)"/>

<ellipse cx="436.0" cy="913.2" rx="6.0" ry="2.8" fill="url(#hl)"/>
<circle cx="640.0" cy="936.0" r="20.0" fill="url(#gc2d8a2)"/>
<circle cx="640.0" cy="936.0" r="20.0" fill="url(#rim)"/>
<g fill="none" stroke-width="1.3" stroke-linejoin="round" opacity="0.7"><polyline points="644.9,936.1 646.9,935.2 647.4,933.0 649.2,931.8 651.0,933.0 651.9,935.0 652.2,937.2" stroke="#e04040"/><polyline points="652.2,937.2 650.8,938.9 651.3,941.0 649.8,942.6 648.6,944.5 646.7,945.6 644.6,946.2" stroke="#e0a020"/><polyline points="644.6,946.2 644.9,948.4 644.3,946.3 644.4,944.1 642.6,942.9 641.0,944.4 642.2,946.3" stroke="#a0c020"/><polyline points="642.2,946.3 644.4,945.9 646.5,945.3 648.6,944.5 650.7,944.1 651.0,942.0 651.8,939.9" stroke="#20b060"/><polyline points="651.8,939.9 651.2,937.8 650.4,935.7 648.3,935.2 646.3,936.2 644.8,937.8 642.8,936.8" stroke="#20a0c0"/><polyline points="642.8,936.8 640.9,935.8 640.3,933.6 638.8,932.1 640.0,930.2 639.9,928.0 640.2,925.8" stroke="#3050e0"/></g>
<ellipse cx="640.0" cy="923.5" rx="12.1" ry="5.6" fill="url(#hl)"/>
<circle cx="979.0" cy="936.0" r="20.0" fill="url(#gcae0a2)"/>
<circle cx="979.0" cy="936.0" r="20.0" fill="url(#rim)"/>
<g fill="none" stroke-width="1.3" stroke-linejoin="round" opacity="0.7"><polyline points="979.1,935.3 981.2,936.0 981.4,938.2 982.2,940.2 984.4,940.0 986.3,941.2 988.4,940.5" stroke="#e04040"/><polyline points="988.4,940.5 988.9,938.4 988.6,936.2 986.5,935.6 984.4,935.3 982.2,934.7 980.1,935.0" stroke="#e0a020"/><polyline points="980.1,935.0 978.5,936.6 976.3,936.5 974.6,937.8 973.5,939.8 975.0,941.4 975.7,943.5" stroke="#a0c020"/><polyline points="975.7,943.5 977.4,944.8 977.4,947.0 975.3,947.8 973.7,946.4 971.5,946.2 972.4,944.2" stroke="#20b060"/><polyline points="972.4,944.2 974.2,942.9 975.8,944.5 976.7,946.5 977.7,948.4 979.8,948.9 978.9,946.9" stroke="#20a0c0"/><polyline points="978.9,946.9 979.0,944.7 977.3,943.3 976.0,941.5 974.1,940.3 972.4,941.7 971.2,943.5" stroke="#3050e0"/></g>
<ellipse cx="979.0" cy="923.5" rx="12.1" ry="5.6" fill="url(#hl)"/>
<circle cx="752.0" cy="932.0" r="10.0" fill="url(#g9ad8ca)"/>
<circle cx="752.0" cy="932.0" r="10.0" fill="url(#rim)"/>

<ellipse cx="752.0" cy="925.8" rx="6.0" ry="2.8" fill="url(#hl)"/>
<circle cx="520.0" cy="970.0" r="20.0" fill="url(#ga2d29a)"/>
<circle cx="520.0" cy="970.0" r="20.0" fill="url(#rim)"/>
<g fill="none" stroke-width="1.3" stroke-linejoin="round" opacity="0.7"><polyline points="522.6,967.7 523.7,969.6 525.5,970.7 527.2,972.2 529.0,971.0 530.8,969.7 531.2,967.6" stroke="#e04040"/><polyline points="531.2,967.6 531.5,969.7 529.6,968.8 528.2,970.5 528.7,972.6 529.5,974.7 529.3,976.9" stroke="#e0a020"/><polyline points="529.3,976.9 529.6,979.1 529.1,976.9 528.1,975.0 525.9,975.2 523.9,976.1 522.1,974.9" stroke="#a0c020"/><polyline points="522.1,974.9 522.7,972.8 521.0,971.4 518.9,970.8 517.1,972.1 514.9,971.8 513.5,973.5" stroke="#20b060"/><polyline points="513.5,973.5 512.2,975.3 513.4,977.1 512.6,979.1 513.6,981.1 513.5,978.9 511.3,978.3" stroke="#20a0c0"/><polyline points="511.3,978.3 509.8,976.7 509.8,974.5 507.7,973.7 509.4,975.1 511.4,974.2 513.6,974.1" stroke="#3050e0"/></g>
<ellipse cx="520.0" cy="957.5" rx="12.1" ry="5.6" fill="url(#hl)"/>
<circle cx="400.8" cy="970.0" r="10.0" fill="url(#ga2d8a2)"/>
<circle cx="400.8" cy="970.0" r="10.0" fill="url(#rim)"/>

<ellipse cx="400.8" cy="963.8" rx="6.0" ry="2.8" fill="url(#hl)"/>
<circle cx="1099.0" cy="966.0" r="20.0" fill="url(#ga2aae0)"/>
<circle cx="1099.0" cy="966.0" r="20.0" fill="url(#rim)"/>
<g fill="none" stroke-width="1.3" stroke-linejoin="round" opacity="0.7"><polyline points="1101.9,963.1 1103.7,964.4 1105.8,963.9 1107.9,964.6 1110.1,964.6 1108.8,966.4 1110.3,968.0" stroke="#e04040"/><polyline points="1110.3,968.0 1108.2,968.5 1106.2,967.6 1104.6,966.1 1102.4,966.2 1100.6,967.5 1098.8,968.9" stroke="#e0a020"/><polyline points="1098.8,968.9 1096.7,969.5 1094.7,970.2 1092.8,971.4 1092.7,973.6 1090.6,974.1 1088.6,973.0" stroke="#a0c020"/><polyline points="1088.6,973.0 1090.3,971.6 1090.3,969.4 1091.9,967.9 1093.5,966.4 1093.6,964.2 1094.0,962.0" stroke="#20b060"/><polyline points="1094.0,962.0 1094.3,959.8 1096.2,958.8 1098.2,959.6 1100.4,959.1 1102.6,959.1 1103.1,957.0" stroke="#20a0c0"/><polyline points="1103.1,957.0 1102.7,959.2 1104.7,960.0 1104.7,962.2 1104.9,964.4 1103.0,965.6 1101.5,964.0" stroke="#3050e0"/></g>
<ellipse cx="1099.0" cy="953.5" rx="12.1" ry="5.6" fill="url(#hl)"/>
<circle cx="742.0" cy="987.0" r="20.0" fill="url(#g92cac2)"/>
<circle cx="742.0" cy="987.0" r="20.0" fill="url(#rim)"/>
<g fill="none" stroke-width="1.3" stroke-linejoin="round" opacity="0.7"><polyline points="743.2,985.6 741.3,986.7 739.1,987.0 737.3,985.7 737.6,983.5 736.2,981.8 734.1,981.0 735.6,982.6 737.6,981.6 739.8,981.5 741.2,983.3 742.7,984.9 744.9,985.1 746.8,986.2 749.0,986.2 751.1,986.8 753.3,987.0 752.2,988.9 752.8,991.0 753.2,993.2 751.0,993.0 749.2,994.3 747.9,996.0 746.4,997.7 744.6,998.8 742.4,999.3 740.7,998.0 741.0,995.8 739.2,994.4 737.4,993.2 738.1,991.1 737.9,988.9 739.2,987.1 741.4,987.3 742.5,989.2 742.9,991.3 742.9,993.5 741.7,995.4 739.7,996.3" stroke="#8070d0"/></g>
<ellipse cx="742.0" cy="974.5" rx="12.1" ry="5.6" fill="url(#hl)"/>
<circle cx="861.0" cy="987.0" r="10.0" fill="url(#ga2d8d2)"/>
<circle cx="861.0" cy="987.0" r="10.0" fill="url(#rim)"/>

<ellipse cx="861.0" cy="980.8" rx="6.0" ry="2.8" fill="url(#hl)"/>
<circle cx="979.0" cy="987.0" r="20.0" fill="url(#g92d2b2)"/>
<circle cx="979.0" cy="987.0" r="20.0" fill="url(#rim)"/>
<g fill="none" stroke-width="1.3" stroke-linejoin="round" opacity="0.7"><polyline points="982.1,989.8 981.4,987.7 980.8,985.6 982.1,983.8 984.3,983.6 986.5,983.6 988.7,983.5" stroke="#e04040"/><polyline points="988.7,983.5 986.5,983.4 984.5,984.5 983.2,986.2 981.1,985.6 980.3,983.5 981.1,981.4" stroke="#e0a020"/><polyline points="981.1,981.4 983.3,981.2 984.7,979.5 985.1,981.7 983.1,982.7 981.2,983.9 979.8,985.5" stroke="#a0c020"/><polyline points="979.8,985.5 980.9,987.4 979.2,988.9 977.5,987.5 975.9,986.1 976.6,984.0 975.2,982.3" stroke="#20b060"/><polyline points="975.2,982.3 973.2,981.3 971.2,982.1 969.6,983.6 971.8,983.3 973.8,984.1 975.1,982.3" stroke="#20a0c0"/><polyline points="975.1,982.3 977.3,982.4 979.5,982.0 981.4,981.0 981.5,978.8 980.0,977.2 978.0,978.0" stroke="#3050e0"/></g>
<ellipse cx="979.0" cy="974.5" rx="12.1" ry="5.6" fill="url(#hl)"/>
<circle cx="282.0" cy="1003.5" r="20.0" fill="url(#g92cac8)"/>
<circle cx="282.0" cy="1003.5" r="20.0" fill="url(#rim)"/>
<g fill="none" stroke-width="1.3" stroke-linejoin="round" opacity="0.7"><polyline points="283.2,1009.2 285.4,1008.9 286.2,1006.9 284.4,1005.7 283.1,1003.9 284.0,1001.8 286.2,1002.2" stroke="#e04040"/><polyline points="286.2,1002.2 287.9,1000.7 289.5,999.2 291.7,999.3 293.2,1000.8 292.1,998.9 290.3,997.6" stroke="#e0a020"/><polyline points="290.3,997.6 288.8,996.0 286.6,996.1 285.1,994.5 283.0,994.8 281.0,995.8 279.1,994.6" stroke="#a0c020"/><polyline points="279.1,994.6 279.2,996.8 278.7,999.0 277.3,1000.7 275.3,1001.4 273.6,999.9 271.8,998.7" stroke="#20b060"/><polyline points="271.8,998.7 274.0,998.3 275.9,997.2 278.0,997.9 279.3,999.7 281.0,1001.1 281.5,1003.2" stroke="#20a0c0"/><polyline points="281.5,1003.2 283.4,1004.4 284.5,1006.2 283.0,1007.8 283.6,1009.9 283.4,1012.1 284.6,1014.0" stroke="#3050e0"/></g>
<ellipse cx="282.0" cy="991.0" rx="12.1" ry="5.6" fill="url(#hl)"/>
<circle cx="1191.0" cy="1011.0" r="20.0" fill="url(#gd04a4a)"/>
<circle cx="1191.0" cy="1011.0" r="20.0" fill="url(#rim)"/>
<g fill="none" stroke-width="1.3" stroke-linejoin="round" opacity="0.7"><polyline points="1190.5,1016.3 1189.8,1014.2 1189.1,1012.2 1186.9,1011.9 1185.9,1010.0 1183.7,1010.3 1182.0,1008.9" stroke="#e04040"/><polyline points="1182.0,1008.9 1180.3,1010.2 1179.8,1012.4 1179.7,1014.6 1181.8,1014.1 1183.0,1012.3 1183.5,1010.1" stroke="#e0a020"/><polyline points="1183.5,1010.1 1185.6,1009.5 1186.2,1007.3 1184.2,1006.4 1183.6,1004.2 1185.6,1005.2 1186.9,1003.4" stroke="#a0c020"/><polyline points="1186.9,1003.4 1188.9,1002.6 1190.9,1001.6 1193.0,1002.3 1195.0,1001.4 1194.8,1003.6 1192.6,1003.9" stroke="#20b060"/><polyline points="1192.6,1003.9 1190.8,1002.7 1188.9,1003.8 1186.7,1003.3 1187.2,1005.5 1189.3,1006.2 1190.6,1004.4" stroke="#20a0c0"/><polyline points="1190.6,1004.4 1192.7,1003.9 1194.3,1005.5 1196.4,1006.1 1197.8,1004.4 1197.2,1006.5 1199.0,1007.9" stroke="#3050e0"/></g>
<ellipse cx="1191.0" cy="998.5" rx="12.1" ry="5.6" fill="url(#hl)"/>
<circle cx="503.0" cy="1021.0" r="20.0" fill="url(#ga2cad8)"/>
<circle cx="503.0" cy="1021.0" r="20.0" fill="url(#rim)"/>
<g fill="none" stroke-width="1.3" stroke-linejoin="round" opacity="0.7"><polyline points="506.3,1024.8 507.3,1026.8 508.1,1028.8 507.6,1030.9 505.7,1032.0 503.7,1033.0 501.6,1032.2 499.6,1031.2 497.7,1030.2 495.9,1031.6 496.1,1029.4 498.2,1028.7 500.0,1030.0 499.2,1032.1 497.6,1033.6 499.7,1033.1 501.6,1034.3 501.6,1032.1 501.0,1030.0 500.4,1027.9 502.3,1026.7 501.9,1024.5 499.7,1024.2 499.3,1022.0 497.1,1022.0 496.0,1020.1 494.0,1019.2 491.8,1018.7 493.8,1017.7 495.9,1016.9 496.5,1014.8 498.5,1014.0 498.0,1011.8 496.2,1013.1 497.9,1014.5 499.6,1013.1 501.8,1012.9 502.3,1010.7 502.3,1012.9" stroke="#a04060"/></g>
<ellipse cx="503.0" cy="1008.5" rx="12.1" ry="5.6" fill="url(#hl)"/>
<circle cx="622.0" cy="1021.0" r="20.0" fill="url(#ga2cad8)"/>
<circle cx="622.0" cy="1021.0" r="20.0" fill="url(#rim)"/>
<g fill="none" stroke-width="1.3" stroke-linejoin="round" opacity="0.7"><polyline points="626.0,1017.8 623.9,1018.4 622.1,1017.2 621.2,1015.2 621.8,1013.1 622.4,1010.9 622.1,1013.1 623.0,1015.1 624.5,1016.7 626.6,1016.2 628.4,1017.5 630.4,1018.3 632.6,1018.7 630.4,1018.6 628.3,1019.4 626.2,1018.9 624.3,1019.9 622.1,1019.7 619.9,1020.2 619.6,1022.4 621.3,1023.8 621.1,1026.0 622.9,1027.1 624.9,1028.1 626.2,1029.9 628.3,1030.6 629.1,1032.7 627.3,1033.9 625.2,1033.2 623.6,1034.6 624.2,1032.5 624.4,1030.3 626.5,1029.8 628.7,1029.7 630.6,1028.5 632.4,1027.3 630.2,1026.8 629.7,1024.7 630.3,1022.5" stroke="#8070d0"/></g>
<ellipse cx="622.0" cy="1008.5" rx="12.1" ry="5.6" fill="url(#hl)"/>
<circle cx="792.0" cy="1038.0" r="20.0" fill="url(#ga0acd8)"/>
<circle cx="792.0" cy="1038.0" r="20.0" fill="url(#rim)"/>
<g fill="none" stroke-width="1.3" stroke-linejoin="round" opacity="0.7"><polyline points="788.5,1036.7 786.8,1038.1 785.6,1040.0 784.3,1041.8 784.2,1044.0 784.2,1046.2 785.7,1047.8" stroke="#e04040"/><polyline points="785.7,1047.8 787.3,1049.3 789.5,1049.5 791.7,1049.5 793.9,1049.5 795.5,1051.0 797.5,1050.1" stroke="#e0a020"/><polyline points="797.5,1050.1 795.3,1050.2 793.6,1051.6 793.7,1049.4 795.5,1048.2 797.7,1047.9 799.2,1046.3" stroke="#a0c020"/><polyline points="799.2,1046.3 800.7,1044.7 800.7,1042.5 799.3,1040.8 800.1,1038.7 800.4,1036.6 801.8,1034.8" stroke="#20b060"/><polyline points="801.8,1034.8 803.7,1035.9 802.2,1034.3 800.1,1033.5 798.2,1032.3 796.5,1033.7 795.6,1035.7" stroke="#20a0c0"/><polyline points="795.6,1035.7 793.4,1035.6 793.1,1033.5 794.1,1031.5 794.8,1029.4 796.9,1028.8 795.7,1030.7" stroke="#3050e0"/></g>
<ellipse cx="792.0" cy="1025.5" rx="12.1" ry="5.6" fill="url(#hl)"/>
<circle cx="912.0" cy="1038.0" r="10.0" fill="url(#gaabae0)"/>
<circle cx="912.0" cy="1038.0" r="10.0" fill="url(#rim)"/>

<ellipse cx="912.0" cy="1031.8" rx="6.0" ry="2.8" fill="url(#hl)"/>
<circle cx="1031.0" cy="1038.0" r="20.0" fill="url(#gaac2e0)"/>
<circle cx="1031.0" cy="1038.0" r="20.0" fill="url(#rim)"/>
<g fill="none" stroke-width="1.3" stroke-linejoin="round" opacity="0.7"><polyline points="1029.5,1034.4 1029.7,1032.2 1030.7,1030.2 1031.7,1028.3 1030.5,1030.1 1029.7,1032.2 1028.2,1033.7 1026.0,1033.2 1024.0,1032.4 1023.4,1030.3 1025.3,1029.1 1027.4,1028.5 1026.6,1030.5 1027.5,1032.6 1029.6,1033.0 1031.3,1034.5 1033.1,1033.3 1035.2,1033.7 1037.4,1034.1 1038.7,1035.9 1037.9,1037.9 1036.1,1039.2 1036.4,1041.4 1035.0,1043.1 1034.8,1045.3 1036.6,1046.6 1038.4,1047.9 1038.3,1045.7 1036.7,1044.3 1036.2,1042.1 1035.0,1040.3 1034.2,1038.2 1035.9,1036.8 1037.2,1035.0 1036.4,1033.0 1038.2,1031.6 1040.0,1032.8 1039.3,1034.8 1037.3,1035.7" stroke="#c04060"/></g>
<ellipse cx="1031.0" cy="1025.5" rx="12.1" ry="5.6" fill="url(#hl)"/>
<circle cx="1084.0" cy="1128.7" r="10.0" fill="url(#ga2a2d8)"/>
<circle cx="1084.0" cy="1128.7" r="10.0" fill="url(#rim)"/>

<ellipse cx="1084.0" cy="1122.5" rx="6.0" ry="2.8" fill="url(#hl)"/>
</g>
<filter id="halo" x="0" y="0" width="1261" height="1174" filterUnits="userSpaceOnUse"><feMorphology in="SourceAlpha" operator="dilate" radius="1.8" result="d"/><feGaussianBlur in="d" stdDeviation="1.1" result="b"/><feComponentTransfer in="b" result="b2"><feFuncA type="linear" slope="1.8"/></feComponentTransfer><feFlood flood-color="#fff"/><feComposite in2="b2" operator="in" result="w"/><feMerge><feMergeNode in="w"/><feMergeNode in="SourceGraphic"/></feMerge></filter>
<g filter="url(#halo)">
<text x="754.0" y="34.0">MBNL1</text>
<text x="830.0" y="115.0">SPG20</text>
<text x="274.0" y="196.0">TMEM50B</text>
<text x="393.0" y="179.0">PLCL2</text>
<text x="945.0" y="172.0">ITGA4</text>
<text x="799.0" y="210.0">EPS15</text>
<text x="1016.0" y="207.0">LNPEP</text>
<text x="634.0" y="214.0">ZFPM2</text>
<text x="479.0" y="221.0">MYLIP</text>
<text x="326.0" y="247.0">INSIG1</text>
<text x="1133.0" y="267.0">TFDP2</text>
<text x="53.0" y="279.0">CPEB1</text>
<text x="590.0" y="272.0">KLHL3</text>
<text x="723.0" y="270.0">RNF41</text>
<text x="385.0" y="289.0">NDRG2</text>
<text x="1014.0" y="306.0">MPHOSPH9</text>
<text x="150.0" y="306.0">ZEB2</text>
<text x="267.0" y="306.0">THSD7A</text>
<text x="606.0" y="323.0">POLR1B</text>
<text x="776.0" y="337.0">PDGFRA</text>
<text x="437.0" y="340.0">LIMD2</text>
<text x="297.0" y="357.0">QKI</text>
<text x="1039.0" y="368.0">CCND3</text>
<text x="855.0" y="375.0">KIT</text>
<text x="1175.0" y="364.0">MAFB</text>
<text x="965.0" y="382.0">PAPPA</text>
<text x="415.0" y="393.0">MAP1B</text>
<text x="559.0" y="377.0">LRP8</text>
<text x="301.0" y="425.0">RPA2</text>
<text x="702.0" y="414.0">GRB10</text>
<text x="522.0" y="442.0">HCFC2</text>
<text x="1048.0" y="442.0">ENPP4</text>
<text x="865.0" y="466.0">IGF1</text>
<text x="283.0" y="476.0">PFKFB3</text>
<text x="393.0" y="485.0">NPAT</text>
<text x="521.0" y="493.0">DCP2</text>
<text x="635.0" y="476.0">EIF2C1</text>
<text x="987.0" y="484.0">ZEB1</text>
<text x="1117.0" y="493.0">C17orf37</text>
<text x="773.0" y="503.0">BCL2L11</text>
<text x="274.0" y="536.0">TMEM170B</text>
<text x="393.0" y="536.0">SBNO1</text>
<text x="694.0" y="532.0">PTEN</text>
<text x="573.0" y="544.0">PHF17</text>
<text x="1048.0" y="560.0">HSPA8</text>
<text x="908.0" y="568.0">MYB</text>
<text x="335.0" y="578.0">ENTPD5</text>
<text x="453.0" y="578.0">LIN28A</text>
<text x="611.0" y="598.0">ITPKB</text>
<text x="1048.0" y="612.0">TACC1</text>
<text x="369.0" y="629.0">RACGAP1</text>
<text x="487.0" y="629.0">TBPL1</text>
<text x="771.0" y="638.0">IRF1</text>
<text x="649.0" y="655.0">C16orf88</text>
<text x="948.0" y="658.0">ATF1</text>
<text x="266.0" y="697.0">BAHD1</text>
<text x="376.0" y="689.0">KIAA1462</text>
<text x="507.0" y="680.0">ITPR1</text>
<text x="641.0" y="714.0">S1PR1</text>
<text x="745.0" y="706.0">SPHK2</text>
<text x="1082.0" y="695.0">RUNX1T1</text>
<text x="901.0" y="714.0">CREB1</text>
<text x="266.0" y="748.0">SLC25A12</text>
<text x="376.0" y="740.0">AGPAT3</text>
<text x="771.0" y="748.0">MLL3</text>
<text x="1191.0" y="748.0">TCF4</text>
<text x="1032.0" y="749.0">ARHGAP24</text>
<text x="539.0" y="765.0">PRKAB1</text>
<text x="648.0" y="774.0">BAGE2</text>
<text x="383.0" y="786.0">CALB1</text>
<text x="257.0" y="808.0">C1orf144</text>
<text x="564.0" y="825.0">KIAA0182</text>
<text x="682.0" y="825.0">ARL4P</text>
<text x="813.0" y="822.0">TAF4B</text>
<text x="904.0" y="818.0">NCOA1</text>
<text x="1173.0" y="823.0">RUNX3</text>
<text x="334.0" y="850.0">TREX2</text>
<text x="454.0" y="850.0">FKBP11</text>
<text x="1088.0" y="846.0">TCF7L2</text>
<text x="573.0" y="867.0">BCAT1</text>
<text x="692.0" y="867.0">SULF1</text>
<text x="964.0" y="867.0">TMOD1</text>
<text x="335.0" y="901.0">TBL1Y</text>
<text x="445.0" y="910.0">MFSD6</text>
<text x="658.0" y="918.0">CHST1</text>
<text x="997.0" y="918.0">NPTX1</text>
<text x="761.0" y="923.0">CREB5</text>
<text x="538.0" y="952.0">PLEKHF2</text>
<text x="410.0" y="961.0">C5orf30</text>
<text x="1117.0" y="948.0">TBL1XR1</text>
<text x="760.0" y="969.0">RRAGD</text>
<text x="870.0" y="978.0">C1orf97</text>
<text x="997.0" y="969.0">ARL4A</text>
<text x="300.0" y="986.0">ODZ1</text>
<text x="1209.0" y="993.0">TBL1X</text>
<text x="521.0" y="1003.0">TNFRSF1B</text>
<text x="640.0" y="1003.0">STX12</text>
<text x="810.0" y="1020.0">SEL1L3</text>
<text x="921.0" y="1029.0">ANKRD28</text>
<text x="1049.0" y="1020.0">CACNB1</text>
<text x="1093.0" y="1120.0">EXOC5</text>
</g>
</svg></body></html>
